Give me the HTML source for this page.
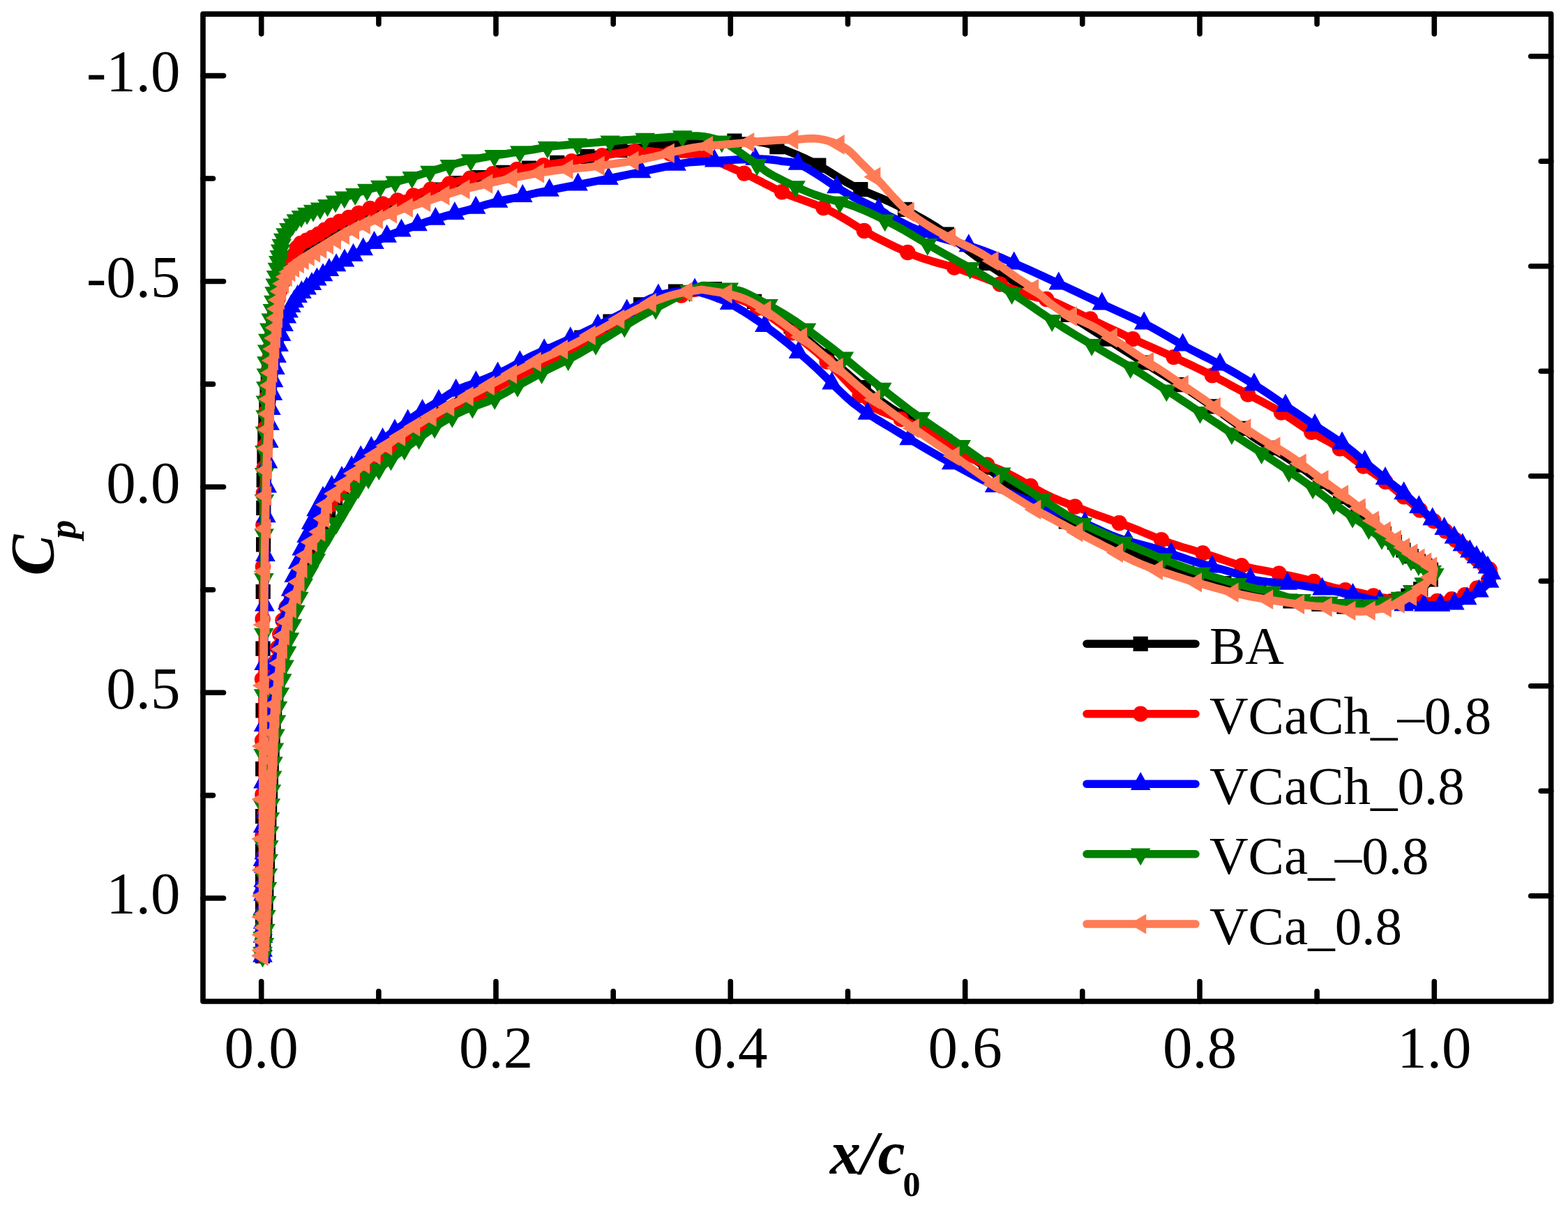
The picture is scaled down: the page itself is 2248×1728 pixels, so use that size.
<!DOCTYPE html>
<html><head><meta charset="utf-8"><style>
html,body{margin:0;padding:0;background:#fff;}
svg{display:block;}
text{font-family:"Liberation Serif","Times New Roman",serif;fill:#000;}
</style></head><body>
<svg width="2248" height="1728" viewBox="0 0 2248 1728">
<rect width="2248" height="1728" fill="#fff"/>
<rect x="291.0" y="20.1" width="1932.7" height="1415.9" fill="none" stroke="#000" stroke-width="7.6" stroke-linejoin="round"/>
<path d="M374.7 1436.0V1407.5M374.7 20.1V48.6M542.9 1436.0V1421.5M542.9 20.1V34.6M711.0 1436.0V1407.5M711.0 20.1V48.6M879.2 1436.0V1421.5M879.2 20.1V34.6M1047.3 1436.0V1407.5M1047.3 20.1V48.6M1215.5 1436.0V1421.5M1215.5 20.1V34.6M1383.7 1436.0V1407.5M1383.7 20.1V48.6M1551.8 1436.0V1421.5M1551.8 20.1V34.6M1720.0 1436.0V1407.5M1720.0 20.1V48.6M1888.1 1436.0V1421.5M1888.1 20.1V34.6M2056.3 1436.0V1407.5M2056.3 20.1V48.6M291.0 108.6H320.5M291.0 256.0H305.5M291.0 403.5H320.5M291.0 550.9H305.5M291.0 698.3H320.5M291.0 845.8H305.5M291.0 993.2H320.5M291.0 1140.6H305.5M291.0 1288.0H320.5M2223.7 80.7H2194.7M2223.7 231.2H2209.2M2223.7 381.7H2194.7M2223.7 532.2H2209.2M2223.7 682.7H2194.7M2223.7 833.2H2209.2M2223.7 983.7H2194.7M2223.7 1134.2H2209.2M2223.7 1284.7H2194.7" stroke="#000" stroke-width="7.6" stroke-linecap="round" fill="none"/>
<text x="374.7" y="1531" font-size="85" text-anchor="middle">0.0</text>
<text x="711.0" y="1531" font-size="85" text-anchor="middle">0.2</text>
<text x="1047.3" y="1531" font-size="85" text-anchor="middle">0.4</text>
<text x="1383.7" y="1531" font-size="85" text-anchor="middle">0.6</text>
<text x="1720.0" y="1531" font-size="85" text-anchor="middle">0.8</text>
<text x="2056.3" y="1531" font-size="85" text-anchor="middle">1.0</text>
<text x="258.6" y="130.9" font-size="85" text-anchor="end">-1.0</text>
<text x="258.6" y="425.8" font-size="85" text-anchor="end">-0.5</text>
<text x="258.6" y="720.6" font-size="85" text-anchor="end">0.0</text>
<text x="258.6" y="1015.5" font-size="85" text-anchor="end">0.5</text>
<text x="258.6" y="1310.3" font-size="85" text-anchor="end">1.0</text>
<text x="1190" y="1683" font-size="88" font-weight="bold" font-style="italic">x/c<tspan font-size="50" font-style="normal" dx="-3" dy="32">0</tspan></text>
<text transform="translate(76,825.4) rotate(-90)" font-size="88" font-weight="bold" font-style="italic">C<tspan font-size="54" dx="-5.8" dy="32">p</tspan></text>
<path d="M2058.0 818.0L2057.4 818.0L2056.6 818.1L2055.6 818.2L2054.5 818.2L2053.3 818.0L2052.0 817.5L2050.6 816.7L2049.1 815.7L2047.5 814.4L2045.8 813.1L2043.9 811.7L2042.0 810.3L2039.9 808.9L2037.7 807.5L2035.4 806.0L2033.0 804.5L2030.5 802.8L2028.0 801.1L2025.5 799.3L2022.9 797.4L2020.2 795.4L2017.5 793.3L2014.7 791.1L2012.0 788.9L2009.3 786.6L2006.5 784.2L2003.8 781.7L2000.9 779.1L1998.0 776.5L1995.0 773.9L1991.9 771.3L1988.7 768.8L1985.5 766.3L1982.1 763.6L1978.7 760.7L1975.0 757.6L1971.2 754.1L1967.2 750.4L1963.1 746.4L1958.9 742.3L1954.5 738.3L1950.0 734.3L1945.3 730.4L1940.4 726.4L1935.3 722.5L1930.2 718.6L1925.1 714.6L1920.0 710.8L1915.0 707.0L1910.0 703.3L1905.0 699.5L1900.0 695.9L1895.0 692.2L1890.0 688.5L1885.0 684.8L1880.0 681.1L1875.0 677.4L1870.0 673.7L1865.0 670.1L1860.0 666.6L1855.0 663.2L1850.0 659.9L1845.0 656.6L1840.0 653.4L1835.0 650.3L1830.0 647.1L1824.9 643.9L1819.6 640.7L1814.2 637.6L1809.1 634.5L1804.3 631.6L1800.0 628.8L1796.8 626.6L1794.8 625.1L1793.1 623.6L1791.0 621.8L1787.5 619.1L1782.0 615.0L1774.1 609.2L1764.4 602.1L1753.4 594.0L1741.6 585.5L1729.6 577.0L1717.9 569.0L1706.4 561.5L1694.9 554.1L1683.0 546.8L1670.8 539.2L1658.1 531.4L1644.7 523.0L1630.1 513.7L1614.1 503.6L1597.7 493.2L1581.5 482.9L1566.4 473.4L1553.2 465.0L1542.0 457.9L1532.1 451.8L1523.3 446.4L1515.3 441.4L1507.6 436.7L1500.0 432.0L1492.8 427.6L1486.5 423.9L1480.6 420.3L1474.6 416.7L1468.0 412.7L1460.5 408.0L1451.9 402.5L1442.4 396.4L1432.5 390.0L1422.2 383.2L1412.0 376.4L1402.0 369.5L1392.2 362.4L1382.4 355.0L1372.6 347.4L1362.8 339.9L1352.9 332.7L1343.0 326.0L1333.0 319.8L1323.0 314.0L1313.0 308.4L1303.0 303.1L1293.0 298.0L1283.0 293.0L1273.1 288.4L1263.2 284.1L1253.4 280.1L1243.6 276.0L1233.8 271.7L1224.0 267.0L1214.3 261.7L1204.6 255.9L1194.9 249.9L1185.3 243.9L1175.7 238.2L1166.0 233.0L1156.0 228.1L1145.6 223.4L1135.1 219.0L1125.1 214.9L1115.9 211.4L1108.0 208.5L1101.6 206.4L1096.4 205.1L1092.1 204.3L1088.2 203.8L1084.3 203.4L1080.0 203.0L1075.7 202.5L1072.0 202.2L1068.2 202.0L1063.9 201.9L1058.7 201.9L1052.0 202.0L1043.9 202.2L1034.9 202.4L1024.8 202.7L1013.8 203.2L1001.9 203.9L989.0 204.8L974.7 206.0L958.8 207.3L941.9 208.9L924.8 210.7L907.9 212.6L892.0 214.8L876.5 217.4L860.8 220.4L845.4 223.6L830.8 226.7L817.5 229.6L806.0 232.0L796.8 233.8L789.5 235.3L783.5 236.5L778.2 237.5L772.9 238.5L767.0 239.6L760.5 240.7L754.0 241.8L747.5 242.8L741.0 243.9L734.7 244.9L728.5 246.0L722.5 247.1L716.6 248.3L710.8 249.4L705.2 250.6L699.6 251.8L694.0 253.0L688.5 254.2L683.1 255.4L677.7 256.6L672.4 257.8L667.2 259.1L662.0 260.5L656.9 262.0L651.8 263.5L646.8 265.0L641.8 266.6L636.9 268.3L632.0 270.0L627.2 271.7L622.6 273.5L617.9 275.3L613.3 277.2L608.7 279.1L604.0 281.0L599.4 282.9L594.9 284.8L590.4 286.8L585.7 288.7L580.7 290.8L575.0 293.0L568.5 295.3L561.1 297.9L553.4 300.4L545.7 303.0L538.5 305.6L532.0 308.0L526.5 310.2L521.6 312.4L517.1 314.4L512.9 316.5L508.6 318.7L504.0 321.0L499.1 323.5L493.9 326.3L488.7 329.1L483.7 331.9L479.0 334.6L475.0 337.0L471.7 339.2L469.0 341.2L466.7 343.2L464.6 345.0L462.4 346.8L460.0 348.5L457.4 350.2L454.7 351.8L452.1 353.3L449.4 354.8L446.7 356.4L444.0 358.0L441.3 359.8L438.4 361.7L435.6 363.6L432.9 365.5L430.3 367.3L428.0 369.0L426.0 370.4L424.1 371.7L422.5 372.9L421.0 374.1L419.5 375.4L418.0 377.0L416.6 378.8L415.2 380.7L413.9 382.8L412.7 385.0L411.4 387.4L410.0 390.0L408.5 392.8L407.0 395.8L405.4 398.9L403.8 402.3L402.3 406.0L401.0 410.0L399.8 414.3L398.7 418.9L397.8 423.8L396.8 428.9L395.9 434.3L395.0 440.0L394.1 446.1L393.2 452.6L392.4 459.4L391.6 466.3L390.8 473.2L390.0 480.0L389.3 486.7L388.6 493.3L387.9 500.0L387.2 506.7L386.6 513.3L386.0 520.0L385.4 526.7L384.9 533.3L384.4 540.0L383.9 546.7L383.4 553.3L383.0 560.0L382.6 566.7L382.2 573.3L381.9 580.0L381.6 586.7L381.3 593.3L381.0 600.0L380.7 606.4L380.5 612.6L380.2 618.8L380.0 625.2L379.7 632.2L379.5 640.0L379.2 648.4L379.0 657.0L378.7 666.2L378.4 676.3L378.2 687.5L378.0 700.0L377.9 714.4L377.8 730.4L377.7 747.5L377.6 765.2L377.6 782.9L377.5 800.0L377.4 816.7L377.3 833.3L377.2 850.0L377.1 866.7L377.1 883.3L377.0 900.0L377.0 915.5L377.0 929.6L377.0 943.8L377.0 959.3L377.0 977.5L377.0 1000.0L376.9 1027.9L376.9 1060.3L376.8 1095.6L376.6 1131.8L376.6 1167.2L376.5 1200.0L376.5 1232.2L376.5 1265.5L376.5 1298.0L376.5 1327.7L376.5 1352.7L376.5 1371.0L376.8 1368.3L377.1 1365.1L377.5 1361.1L378.0 1355.9L378.5 1348.9L379.0 1340.0L379.6 1328.5L380.2 1314.7L380.9 1299.3L381.6 1282.9L382.3 1266.3L383.0 1250.0L383.7 1233.8L384.3 1217.0L385.0 1200.0L385.7 1183.0L386.3 1166.2L387.0 1150.0L387.7 1133.8L388.4 1117.2L389.1 1100.9L389.8 1085.6L390.4 1071.7L391.0 1060.0L391.4 1051.0L391.7 1044.4L392.0 1039.2L392.3 1034.9L392.6 1030.4L393.0 1025.0L393.6 1018.8L394.2 1012.6L394.9 1006.2L395.6 999.8L396.3 993.4L397.0 987.0L397.6 980.7L398.3 974.3L398.9 968.0L399.5 961.7L400.2 955.3L401.0 949.0L401.8 942.7L402.7 936.3L403.7 930.0L404.7 923.7L405.8 917.3L407.0 911.0L408.3 904.6L409.7 898.0L411.2 891.4L412.8 884.9L414.4 878.8L416.0 873.0L417.6 867.8L419.4 863.0L421.1 858.6L422.9 854.2L424.5 849.7L426.0 845.0L427.3 840.1L428.3 835.1L429.3 830.0L430.3 824.8L431.5 819.5L433.0 814.0L434.8 808.3L436.7 802.4L438.8 796.3L441.1 790.2L443.5 784.1L446.0 778.2L448.6 772.6L451.2 767.2L453.9 761.9L456.9 756.4L460.2 750.5L464.0 743.8L468.3 736.0L473.1 727.3L478.3 718.1L483.6 708.9L488.9 700.4L494.0 693.0L498.8 686.9L503.5 681.7L508.2 677.1L512.9 672.8L517.8 668.5L523.0 664.0L528.5 659.2L534.2 654.5L540.1 649.7L546.0 645.0L552.0 640.4L558.0 636.0L563.9 631.7L569.9 627.6L575.9 623.6L582.0 619.6L588.0 615.7L594.0 611.8L600.0 607.9L606.0 604.1L612.0 600.3L618.0 596.5L624.0 592.9L630.0 589.3L636.0 585.8L642.1 582.5L648.1 579.2L654.1 576.0L660.1 572.8L666.0 569.7L671.5 566.8L676.5 564.2L681.5 561.6L686.8 558.8L692.9 555.7L700.0 552.0L708.6 547.6L718.3 542.5L728.7 537.1L739.4 531.5L750.0 526.1L760.0 521.0L769.5 516.3L778.7 511.8L787.8 507.4L796.9 503.1L805.9 498.6L815.0 494.0L824.3 489.1L833.8 484.0L843.3 478.8L852.6 473.7L861.6 468.7L870.0 464.0L877.7 459.6L884.7 455.4L891.3 451.4L897.9 447.5L904.7 443.7L912.0 440.0L920.0 436.3L928.6 432.6L937.4 428.9L946.1 425.6L954.4 422.5L962.0 420.0L969.0 418.0L975.7 416.4L982.1 415.2L987.9 414.3L993.3 413.6L998.0 413.0L1001.5 412.4L1003.7 412.0L1005.4 411.8L1007.3 411.8L1010.2 412.2L1015.0 413.0L1021.8 414.1L1030.1 415.5L1039.5 417.2L1049.4 419.5L1059.4 422.4L1069.0 426.0L1078.3 430.6L1087.8 435.9L1097.3 441.9L1106.9 448.4L1116.5 455.2L1126.0 462.0L1135.3 468.9L1144.4 476.0L1153.4 483.3L1162.7 491.1L1172.5 499.3L1183.0 508.0L1194.4 517.7L1206.5 528.3L1219.1 539.3L1231.9 550.4L1244.6 561.0L1257.0 570.7L1269.0 579.3L1280.7 587.2L1292.4 594.6L1304.2 601.9L1316.2 609.3L1328.6 617.0L1341.9 625.3L1356.0 634.0L1370.4 642.8L1384.4 651.4L1397.5 659.5L1409.0 667.0L1418.3 673.5L1425.9 679.1L1432.5 684.3L1438.9 689.4L1446.2 694.9L1455.0 701.1L1465.8 708.4L1478.0 716.5L1490.9 724.9L1504.0 733.3L1516.6 741.0L1528.0 747.7L1538.2 753.2L1547.7 757.8L1556.6 761.8L1565.3 765.5L1574.0 769.3L1583.0 773.3L1592.0 777.6L1600.7 781.9L1609.4 786.1L1618.3 790.4L1627.8 794.7L1638.0 799.0L1648.9 803.3L1660.4 807.6L1672.4 811.9L1684.8 816.2L1697.7 820.4L1711.0 824.6L1725.4 828.8L1740.9 833.0L1756.9 837.3L1772.6 841.3L1787.2 845.0L1800.0 848.4L1810.6 851.4L1819.6 854.0L1827.4 856.4L1834.8 858.5L1842.1 860.3L1850.0 862.0L1858.4 863.3L1866.8 864.3L1875.2 865.1L1883.6 865.7L1891.9 866.3L1900.0 867.0L1908.0 867.8L1916.0 868.7L1923.8 869.5L1931.5 870.3L1938.9 870.8L1946.0 871.0L1952.8 870.9L1959.4 870.5L1965.7 870.0L1971.7 869.2L1977.5 868.3L1983.0 867.3L1988.1 866.2L1992.7 864.9L1997.1 863.4L2001.3 861.8L2005.6 860.1L2010.0 858.2L2014.8 856.1L2019.8 853.8L2024.8 851.4L2029.7 848.9L2034.1 846.4L2038.0 844.0L2041.2 841.6L2044.0 839.2L2046.4 836.9L2048.4 834.5L2050.3 832.2L2052.0 830.0L2053.5 827.7L2054.8 825.4L2055.9 823.1L2056.7 821.0L2057.4 819.3L2058.0 818.0" fill="none" stroke="#000000" stroke-width="11.5" stroke-linejoin="round" stroke-linecap="round"/><path d="M365.9 1360.4h21.2v21.2h-21.2ZM365.9 1339.1h21.2v21.2h-21.2ZM365.9 1315.1h21.2v21.2h-21.2ZM365.9 1286.9h21.2v21.2h-21.2ZM365.9 1252.9h21.2v21.2h-21.2ZM365.9 1211.5h21.2v21.2h-21.2ZM366.0 1160.1h21.2v21.2h-21.2ZM366.1 1092.0h21.2v21.2h-21.2ZM366.4 1008.2h21.2v21.2h-21.2ZM366.4 919.5h21.2v21.2h-21.2ZM366.6 837.9h21.2v21.2h-21.2ZM367.0 770.2h21.2v21.2h-21.2ZM367.2 717.8h21.2v21.2h-21.2ZM367.6 677.9h21.2v21.2h-21.2ZM368.4 644.4h21.2v21.2h-21.2ZM369.3 615.7h21.2v21.2h-21.2ZM370.3 591.5h21.2v21.2h-21.2ZM371.3 569.9h21.2v21.2h-21.2ZM372.4 549.9h21.2v21.2h-21.2ZM373.7 530.9h21.2v21.2h-21.2ZM375.1 513.0h21.2v21.2h-21.2ZM376.6 496.1h21.2v21.2h-21.2ZM378.2 480.2h21.2v21.2h-21.2ZM379.9 465.2h21.2v21.2h-21.2ZM381.5 450.9h21.2v21.2h-21.2ZM383.2 437.5h21.2v21.2h-21.2ZM385.2 424.2h21.2v21.2h-21.2ZM387.4 412.1h21.2v21.2h-21.2ZM390.1 400.5h21.2v21.2h-21.2ZM394.3 389.3h21.2v21.2h-21.2ZM399.4 379.4h21.2v21.2h-21.2ZM403.3 372.1h21.2v21.2h-21.2ZM408.5 365.2h21.2v21.2h-21.2ZM414.9 360.2h21.2v21.2h-21.2ZM422.3 354.9h21.2v21.2h-21.2ZM429.7 349.8h21.2v21.2h-21.2ZM438.3 344.5h21.2v21.2h-21.2ZM447.2 339.3h21.2v21.2h-21.2ZM456.1 332.6h21.2v21.2h-21.2ZM466.2 325.3h21.2v21.2h-21.2ZM478.1 318.5h21.2v21.2h-21.2ZM491.6 311.3h21.2v21.2h-21.2ZM506.5 303.8h21.2v21.2h-21.2ZM523.9 296.5h21.2v21.2h-21.2ZM543.8 289.5h21.2v21.2h-21.2ZM565.8 281.9h21.2v21.2h-21.2ZM589.8 271.9h21.2v21.2h-21.2ZM615.7 261.5h21.2v21.2h-21.2ZM644.2 252.0h21.2v21.2h-21.2ZM675.9 244.0h21.2v21.2h-21.2ZM710.3 236.8h21.2v21.2h-21.2ZM747.9 230.5h21.2v21.2h-21.2ZM788.2 222.8h21.2v21.2h-21.2ZM831.3 213.7h21.2v21.2h-21.2ZM878.4 204.7h21.2v21.2h-21.2ZM928.8 198.6h21.2v21.2h-21.2ZM984.1 193.8h21.2v21.2h-21.2ZM1042.4 191.4h21.2v21.2h-21.2ZM1103.3 200.1h21.2v21.2h-21.2ZM1163.2 226.6h21.2v21.2h-21.2ZM1223.2 261.1h21.2v21.2h-21.2ZM1286.9 289.7h21.2v21.2h-21.2ZM1346.8 325.4h21.2v21.2h-21.2ZM1403.1 366.9h21.2v21.2h-21.2ZM1462.2 405.1h21.2v21.2h-21.2ZM1520.6 440.7h21.2v21.2h-21.2ZM1576.0 475.6h21.2v21.2h-21.2ZM1629.4 509.4h21.2v21.2h-21.2ZM1680.3 541.1h21.2v21.2h-21.2ZM1727.3 572.3h21.2v21.2h-21.2ZM1770.6 603.8h21.2v21.2h-21.2ZM1811.6 631.7h21.2v21.2h-21.2ZM1849.8 656.3h21.2v21.2h-21.2ZM1882.3 680.0h21.2v21.2h-21.2ZM1911.1 701.5h21.2v21.2h-21.2ZM1936.3 721.1h21.2v21.2h-21.2ZM1956.2 739.4h21.2v21.2h-21.2ZM1973.6 754.7h21.2v21.2h-21.2ZM1988.7 767.0h21.2v21.2h-21.2ZM2001.4 778.3h21.2v21.2h-21.2ZM2012.7 787.1h21.2v21.2h-21.2ZM2022.8 794.2h21.2v21.2h-21.2ZM2032.4 800.4h21.2v21.2h-21.2ZM2040.9 806.6h21.2v21.2h-21.2ZM367.2 1347.4h21.2v21.2h-21.2ZM368.5 1327.8h21.2v21.2h-21.2ZM369.5 1307.7h21.2v21.2h-21.2ZM370.4 1287.7h21.2v21.2h-21.2ZM371.2 1267.8h21.2v21.2h-21.2ZM372.1 1247.5h21.2v21.2h-21.2ZM372.9 1227.8h21.2v21.2h-21.2ZM373.7 1208.0h21.2v21.2h-21.2ZM374.5 1187.9h21.2v21.2h-21.2ZM375.2 1167.8h21.2v21.2h-21.2ZM376.0 1148.0h21.2v21.2h-21.2ZM376.9 1127.7h21.2v21.2h-21.2ZM377.8 1107.6h21.2v21.2h-21.2ZM378.6 1087.8h21.2v21.2h-21.2ZM379.5 1067.8h21.2v21.2h-21.2ZM380.5 1047.8h21.2v21.2h-21.2ZM381.4 1028.1h21.2v21.2h-21.2ZM383.0 1008.2h21.2v21.2h-21.2ZM385.1 988.1h21.2v21.2h-21.2ZM387.2 968.0h21.2v21.2h-21.2ZM389.2 948.4h21.2v21.2h-21.2ZM391.8 928.4h21.2v21.2h-21.2ZM394.8 908.8h21.2v21.2h-21.2ZM398.8 888.9h21.2v21.2h-21.2ZM403.4 869.7h21.2v21.2h-21.2ZM409.6 850.4h21.2v21.2h-21.2ZM416.0 831.9h21.2v21.2h-21.2ZM420.2 812.1h21.2v21.2h-21.2ZM425.8 792.8h21.2v21.2h-21.2ZM432.7 774.0h21.2v21.2h-21.2ZM440.8 756.2h21.2v21.2h-21.2ZM450.4 738.5h21.2v21.2h-21.2ZM460.1 721.1h21.2v21.2h-21.2ZM470.0 703.5h21.2v21.2h-21.2ZM480.4 686.7h21.2v21.2h-21.2ZM492.9 671.1h21.2v21.2h-21.2ZM507.6 657.6h21.2v21.2h-21.2ZM522.8 644.5h21.2v21.2h-21.2ZM539.0 631.7h21.2v21.2h-21.2ZM557.6 618.2h21.2v21.2h-21.2ZM578.2 604.5h21.2v21.2h-21.2ZM601.0 589.9h21.2v21.2h-21.2ZM625.4 575.2h21.2v21.2h-21.2ZM652.7 560.5h21.2v21.2h-21.2ZM681.8 545.3h21.2v21.2h-21.2ZM713.6 528.8h21.2v21.2h-21.2ZM747.6 511.3h21.2v21.2h-21.2ZM784.4 493.3h21.2v21.2h-21.2ZM823.2 473.4h21.2v21.2h-21.2ZM864.4 450.6h21.2v21.2h-21.2ZM908.0 426.3h21.2v21.2h-21.2ZM957.9 407.5h21.2v21.2h-21.2ZM1013.8 404.0h21.2v21.2h-21.2ZM1070.9 421.7h21.2v21.2h-21.2ZM1123.5 457.4h21.2v21.2h-21.2ZM1175.1 499.7h21.2v21.2h-21.2ZM1227.5 544.9h21.2v21.2h-21.2ZM1284.4 585.7h21.2v21.2h-21.2ZM1344.1 622.6h21.2v21.2h-21.2ZM1403.1 659.6h21.2v21.2h-21.2ZM1459.8 700.9h21.2v21.2h-21.2ZM1517.8 737.3h21.2v21.2h-21.2ZM1577.6 765.2h21.2v21.2h-21.2ZM1634.5 791.2h21.2v21.2h-21.2ZM1690.5 810.9h21.2v21.2h-21.2ZM1744.4 826.1h21.2v21.2h-21.2ZM1794.4 839.2h21.2v21.2h-21.2ZM1839.4 851.4h21.2v21.2h-21.2ZM1880.3 855.6h21.2v21.2h-21.2ZM1916.3 859.2h21.2v21.2h-21.2ZM1946.2 860.1h21.2v21.2h-21.2ZM1970.4 857.1h21.2v21.2h-21.2ZM1990.2 851.4h21.2v21.2h-21.2ZM2008.3 843.7h21.2v21.2h-21.2ZM2026.1 834.2h21.2v21.2h-21.2ZM2040.7 820.3h21.2v21.2h-21.2Z" fill="#000000"/>
<path d="M2142.0 822.0L2140.7 820.9L2139.0 819.5L2136.9 817.8L2134.7 815.9L2132.3 813.9L2130.0 812.0L2127.7 810.1L2125.2 808.2L2122.7 806.2L2120.1 804.2L2117.5 802.1L2115.0 800.0L2112.5 797.8L2110.0 795.5L2107.6 793.1L2105.1 790.7L2102.6 788.4L2100.0 786.0L2097.4 783.7L2094.7 781.3L2092.0 778.9L2089.3 776.6L2086.6 774.3L2084.0 772.0L2081.5 769.8L2079.1 767.6L2076.8 765.5L2074.4 763.4L2072.0 761.2L2069.5 759.0L2066.9 756.8L2064.4 754.5L2061.7 752.3L2059.0 749.9L2056.1 747.5L2053.0 745.0L2049.7 742.3L2046.1 739.6L2042.5 736.7L2038.7 733.8L2034.8 730.8L2031.0 727.7L2027.1 724.5L2023.2 721.2L2019.2 717.8L2015.2 714.4L2011.1 711.0L2007.0 707.6L2002.9 704.3L1998.9 700.9L1994.8 697.6L1990.6 694.3L1986.3 690.9L1981.7 687.4L1976.9 683.9L1971.9 680.4L1966.7 676.8L1961.4 673.1L1956.1 669.4L1950.6 665.5L1945.1 661.4L1939.5 657.2L1933.9 652.8L1928.1 648.4L1922.1 644.1L1916.0 640.0L1909.6 636.1L1903.0 632.3L1896.2 628.7L1889.4 624.9L1882.4 621.1L1875.5 617.0L1868.6 612.6L1861.8 608.0L1854.9 603.2L1847.8 598.4L1840.6 593.7L1833.0 589.0L1825.1 584.5L1816.8 580.0L1808.4 575.5L1799.8 571.1L1791.3 566.6L1782.8 562.2L1774.4 557.7L1766.1 553.3L1757.8 548.8L1749.4 544.4L1741.0 540.0L1732.5 535.7L1724.0 531.5L1715.4 527.3L1706.8 523.2L1698.1 519.2L1689.3 515.1L1680.4 511.0L1671.3 506.9L1662.2 502.9L1652.9 498.8L1643.5 494.7L1634.1 490.6L1624.6 486.3L1615.0 481.9L1605.3 477.3L1595.5 472.7L1585.6 468.1L1575.8 463.4L1566.0 458.8L1555.9 454.0L1545.3 448.9L1534.8 443.8L1524.6 439.0L1515.4 434.8L1507.4 431.4L1501.2 429.2L1496.4 428.0L1492.6 427.4L1489.0 427.0L1485.0 426.3L1480.0 425.0L1474.2 423.1L1468.2 420.8L1461.8 418.4L1455.0 415.7L1447.5 412.8L1439.4 409.7L1430.4 406.3L1420.5 402.5L1410.1 398.5L1399.4 394.4L1388.6 390.5L1378.0 386.8L1367.6 383.5L1357.1 380.5L1346.6 377.6L1336.1 374.6L1325.5 371.3L1315.0 367.6L1304.5 363.4L1293.9 358.8L1283.3 354.0L1272.8 348.9L1262.3 343.7L1251.9 338.3L1241.6 332.6L1231.3 326.5L1221.1 320.2L1211.0 313.9L1200.8 308.0L1190.6 302.7L1180.0 297.9L1169.0 293.5L1157.9 289.4L1147.4 285.7L1137.7 282.2L1129.3 278.9L1122.6 276.0L1117.1 273.5L1112.6 271.4L1108.5 269.3L1104.5 267.2L1100.0 265.0L1095.2 262.6L1090.6 260.2L1085.9 257.8L1081.2 255.4L1076.4 253.1L1071.5 250.7L1066.4 248.4L1061.2 246.1L1056.0 243.9L1050.6 241.6L1045.3 239.3L1040.0 237.0L1034.8 234.5L1029.8 231.8L1024.8 229.0L1019.6 226.4L1014.0 224.2L1008.0 222.5L1001.4 221.5L994.2 221.0L986.8 220.8L979.1 220.9L971.5 220.8L964.0 220.5L956.7 219.8L949.6 218.9L942.5 218.0L935.2 217.1L927.6 216.6L919.6 216.5L910.9 217.0L901.7 217.8L892.2 219.0L882.6 220.3L873.4 221.7L864.7 223.0L856.7 224.3L849.2 225.6L842.0 226.9L834.9 228.3L827.6 229.7L820.0 231.0L812.0 232.3L803.7 233.5L795.2 234.8L786.9 236.0L778.7 237.2L770.8 238.4L763.3 239.5L755.9 240.7L748.7 241.8L741.8 242.8L735.0 243.9L728.5 245.0L722.3 246.1L716.3 247.2L710.6 248.3L705.0 249.4L699.5 250.5L694.0 251.6L688.6 252.7L683.3 253.7L678.1 254.8L672.9 255.8L667.8 257.0L662.7 258.2L657.6 259.5L652.5 261.0L647.4 262.5L642.4 264.0L637.4 265.5L632.5 267.0L627.6 268.5L622.6 269.9L617.7 271.4L612.9 272.9L608.3 274.3L603.9 275.8L600.0 277.3L596.5 278.8L593.2 280.2L589.8 281.7L586.2 283.1L582.0 284.5L577.2 285.8L571.9 287.0L566.3 288.2L560.7 289.4L555.2 290.6L550.0 292.0L545.2 293.5L540.4 295.1L535.9 296.8L531.4 298.6L527.1 300.3L522.9 302.0L518.9 303.7L515.0 305.3L511.3 306.9L507.6 308.6L503.9 310.3L500.0 312.0L495.9 313.8L491.6 315.7L487.2 317.6L483.0 319.5L478.9 321.4L475.2 323.3L471.9 325.2L469.0 327.2L466.3 329.2L463.6 331.1L461.0 333.0L458.2 334.8L455.2 336.5L452.1 338.2L449.0 339.8L446.0 341.4L443.1 342.9L440.4 344.3L437.9 345.6L435.5 346.8L433.2 347.9L431.2 349.0L429.4 350.2L427.9 351.4L426.8 352.7L426.2 354.0L425.8 355.3L425.5 356.8L425.2 358.3L424.6 360.0L423.8 361.9L423.0 364.0L422.0 366.3L421.1 368.6L420.0 370.8L419.0 373.0L417.9 375.0L416.7 377.0L415.5 378.9L414.3 380.8L413.1 382.8L412.0 385.0L411.0 387.2L410.0 389.2L409.1 391.4L408.1 393.8L407.1 396.6L406.0 400.0L404.8 404.0L403.4 408.5L402.1 413.4L400.7 418.7L399.3 424.2L398.0 430.0L396.8 436.1L395.5 442.6L394.3 449.4L393.1 456.3L392.0 463.2L391.0 470.0L390.0 476.6L389.1 483.0L388.2 489.4L387.4 495.9L386.7 502.8L386.0 510.0L385.4 517.6L384.9 525.6L384.4 533.8L383.9 542.2L383.5 551.0L383.0 560.0L382.5 569.2L382.0 578.5L381.4 588.1L380.9 598.1L380.4 608.7L380.0 620.0L379.6 631.9L379.2 644.4L378.9 657.5L378.6 671.1L378.3 685.3L378.0 700.0L377.8 715.5L377.6 731.9L377.4 748.8L377.3 765.9L377.1 783.1L377.0 800.0L376.9 816.7L376.8 833.3L376.7 850.0L376.6 866.7L376.6 883.3L376.5 900.0L376.4 915.5L376.3 929.6L376.2 943.8L376.1 959.3L376.0 977.5L376.0 1000.0L376.0 1027.9L376.1 1060.3L376.2 1095.6L376.3 1131.8L376.4 1167.2L376.5 1200.0L376.5 1232.2L376.5 1265.5L376.5 1298.0L376.5 1327.7L376.5 1352.7L376.5 1371.0L376.5 1368.3L376.6 1365.1L376.7 1361.1L376.8 1355.9L376.9 1348.9L377.0 1340.0L377.1 1328.5L377.3 1314.7L377.4 1299.3L377.6 1282.9L377.8 1266.3L378.0 1250.0L378.3 1233.8L378.5 1217.0L378.8 1200.0L379.1 1183.0L379.5 1166.2L380.0 1150.0L380.6 1134.1L381.2 1118.1L381.9 1102.5L382.6 1087.4L383.3 1073.1L384.0 1060.0L384.6 1048.1L385.2 1037.4L385.8 1027.5L386.4 1018.1L387.2 1009.1L388.0 1000.0L389.0 991.1L390.1 982.6L391.2 974.4L392.5 966.3L393.7 958.2L395.0 950.0L396.2 941.6L397.5 933.0L398.8 924.4L400.1 915.9L401.5 907.8L403.0 900.0L404.7 892.6L406.4 885.6L408.3 878.8L410.2 872.2L412.1 866.0L414.0 860.0L415.8 854.4L417.7 849.3L419.5 844.4L421.3 839.6L423.2 834.9L425.0 830.0L426.8 824.9L428.7 819.8L430.5 814.7L432.3 809.6L434.2 804.7L436.0 800.0L437.8 795.6L439.7 791.3L441.5 787.2L443.3 783.2L445.2 779.3L447.0 775.3L448.8 771.3L450.6 767.5L452.4 763.6L454.3 759.8L456.1 755.9L458.0 752.1L459.8 748.3L461.4 744.7L463.1 741.1L464.9 737.3L467.2 733.4L470.0 729.0L473.5 724.2L477.5 719.0L481.9 713.5L486.6 708.0L491.3 702.5L496.0 697.2L500.6 692.1L505.2 687.0L509.9 681.9L514.8 676.9L519.8 672.0L525.0 667.2L530.5 662.5L536.2 657.8L542.1 653.3L548.0 648.8L554.0 644.4L560.0 640.2L565.9 636.1L571.9 632.1L577.9 628.3L584.0 624.5L590.0 620.8L596.0 617.2L602.0 613.6L608.0 610.2L614.0 606.8L620.0 603.5L626.0 600.2L632.0 597.0L638.0 593.8L644.0 590.8L649.9 587.8L655.9 584.8L661.9 581.7L668.0 578.7L673.9 575.7L679.6 572.9L685.3 570.1L691.3 567.1L697.8 563.8L705.0 560.1L713.1 555.8L722.0 551.1L731.4 546.0L741.0 540.9L750.6 535.8L760.0 531.0L769.2 526.5L778.3 522.3L787.5 518.1L796.7 513.8L805.8 509.5L815.0 505.0L824.3 500.2L833.7 495.1L843.1 490.0L852.4 484.9L861.4 479.8L870.0 475.0L878.1 470.4L885.7 465.9L893.1 461.4L900.3 457.1L907.6 453.0L915.0 449.0L922.7 445.1L930.6 441.1L938.5 437.4L946.3 433.9L953.9 430.7L961.0 428.0L967.9 425.8L974.7 424.1L981.2 422.7L987.3 421.6L992.8 420.7L997.7 420.0L1001.2 419.4L1003.4 418.9L1005.0 418.7L1006.9 418.7L1009.8 419.2L1014.6 420.0L1021.5 421.1L1030.0 422.5L1039.6 424.2L1049.7 426.4L1059.8 429.3L1069.5 433.0L1078.9 437.7L1088.3 443.2L1097.8 449.4L1107.3 456.1L1116.8 463.0L1126.3 470.0L1135.8 477.0L1145.3 484.3L1154.8 491.8L1164.2 499.6L1173.7 507.7L1183.0 516.0L1192.7 525.2L1202.8 535.5L1212.8 545.9L1222.3 556.0L1230.8 564.9L1237.9 572.0L1242.7 576.7L1245.3 579.5L1247.0 581.2L1248.7 582.5L1251.7 584.1L1257.0 586.8L1264.9 590.4L1274.7 594.4L1285.6 598.7L1297.1 603.3L1308.7 608.3L1319.6 613.6L1330.0 619.6L1340.5 626.3L1351.0 633.4L1361.4 640.5L1371.8 647.1L1382.0 652.9L1392.0 657.7L1401.9 661.7L1411.7 665.3L1421.5 668.8L1431.3 672.6L1441.2 676.9L1451.2 682.0L1461.3 687.6L1471.4 693.4L1481.5 699.3L1491.6 704.9L1501.6 710.0L1511.6 714.6L1521.5 718.8L1531.4 722.7L1541.2 726.5L1551.1 730.2L1561.0 734.0L1570.9 737.8L1580.9 741.4L1590.9 745.0L1600.9 748.6L1610.7 752.2L1620.5 755.9L1630.1 759.7L1639.7 763.7L1649.2 767.6L1658.6 771.5L1667.9 775.3L1677.2 778.7L1686.4 781.8L1695.5 784.7L1704.6 787.3L1713.6 789.9L1722.4 792.5L1731.2 795.2L1739.8 798.0L1748.4 801.0L1756.9 803.9L1765.2 806.7L1773.4 809.4L1781.5 811.7L1789.4 813.7L1797.1 815.3L1804.7 816.8L1812.3 818.2L1819.8 819.6L1827.4 821.1L1835.1 822.7L1843.0 824.3L1850.9 825.9L1858.6 827.6L1866.1 829.3L1873.2 831.0L1879.8 832.8L1886.1 834.7L1892.1 836.6L1897.9 838.6L1903.8 840.4L1909.8 842.0L1915.9 843.5L1922.1 844.8L1928.2 846.0L1934.3 847.2L1940.4 848.3L1946.4 849.5L1952.3 850.7L1958.1 852.0L1963.9 853.3L1969.6 854.5L1975.3 855.6L1981.0 856.6L1986.6 857.4L1992.2 858.1L1997.7 858.7L2003.3 859.2L2009.1 859.7L2015.0 860.1L2021.5 860.5L2028.4 861.0L2035.5 861.3L2042.4 861.6L2048.7 861.9L2054.0 862.0L2058.2 862.0L2061.6 862.0L2064.3 861.9L2066.8 861.7L2069.2 861.4L2072.0 861.0L2075.0 860.5L2078.1 860.0L2081.2 859.3L2084.2 858.6L2087.2 857.8L2090.0 857.0L2092.7 856.2L2095.2 855.3L2097.7 854.3L2100.1 853.3L2102.5 852.2L2105.0 851.0L2107.5 849.7L2110.0 848.3L2112.6 846.8L2115.1 845.2L2117.6 843.6L2120.0 842.0L2122.5 840.4L2125.0 838.7L2127.4 837.1L2129.8 835.4L2132.0 833.7L2134.0 832.0L2135.8 830.2L2137.4 828.3L2138.9 826.4L2140.1 824.6L2141.2 823.1L2142.0 822.0" fill="none" stroke="#ff0000" stroke-width="11.5" stroke-linejoin="round" stroke-linecap="round"/><path d="M365.3 1371.0a11.2 11.2 0 1 0 22.4 0a11.2 11.2 0 1 0 -22.4 0ZM365.3 1360.9a11.2 11.2 0 1 0 22.4 0a11.2 11.2 0 1 0 -22.4 0ZM365.3 1337.9a11.2 11.2 0 1 0 22.4 0a11.2 11.2 0 1 0 -22.4 0ZM365.3 1312.1a11.2 11.2 0 1 0 22.4 0a11.2 11.2 0 1 0 -22.4 0ZM365.3 1281.0a11.2 11.2 0 1 0 22.4 0a11.2 11.2 0 1 0 -22.4 0ZM365.3 1243.8a11.2 11.2 0 1 0 22.4 0a11.2 11.2 0 1 0 -22.4 0ZM365.3 1198.0a11.2 11.2 0 1 0 22.4 0a11.2 11.2 0 1 0 -22.4 0ZM365.2 1139.4a11.2 11.2 0 1 0 22.4 0a11.2 11.2 0 1 0 -22.4 0ZM364.9 1061.8a11.2 11.2 0 1 0 22.4 0a11.2 11.2 0 1 0 -22.4 0ZM364.8 974.0a11.2 11.2 0 1 0 22.4 0a11.2 11.2 0 1 0 -22.4 0ZM365.4 887.4a11.2 11.2 0 1 0 22.4 0a11.2 11.2 0 1 0 -22.4 0ZM365.7 812.6a11.2 11.2 0 1 0 22.4 0a11.2 11.2 0 1 0 -22.4 0ZM366.2 752.8a11.2 11.2 0 1 0 22.4 0a11.2 11.2 0 1 0 -22.4 0ZM366.7 707.0a11.2 11.2 0 1 0 22.4 0a11.2 11.2 0 1 0 -22.4 0ZM367.4 671.1a11.2 11.2 0 1 0 22.4 0a11.2 11.2 0 1 0 -22.4 0ZM368.2 639.9a11.2 11.2 0 1 0 22.4 0a11.2 11.2 0 1 0 -22.4 0ZM369.0 613.9a11.2 11.2 0 1 0 22.4 0a11.2 11.2 0 1 0 -22.4 0ZM370.1 591.1a11.2 11.2 0 1 0 22.4 0a11.2 11.2 0 1 0 -22.4 0ZM371.2 570.2a11.2 11.2 0 1 0 22.4 0a11.2 11.2 0 1 0 -22.4 0ZM372.3 551.0a11.2 11.2 0 1 0 22.4 0a11.2 11.2 0 1 0 -22.4 0ZM373.3 532.2a11.2 11.2 0 1 0 22.4 0a11.2 11.2 0 1 0 -22.4 0ZM374.4 515.1a11.2 11.2 0 1 0 22.4 0a11.2 11.2 0 1 0 -22.4 0ZM376.0 498.6a11.2 11.2 0 1 0 22.4 0a11.2 11.2 0 1 0 -22.4 0ZM377.8 483.5a11.2 11.2 0 1 0 22.4 0a11.2 11.2 0 1 0 -22.4 0ZM380.0 468.4a11.2 11.2 0 1 0 22.4 0a11.2 11.2 0 1 0 -22.4 0ZM382.2 454.8a11.2 11.2 0 1 0 22.4 0a11.2 11.2 0 1 0 -22.4 0ZM384.5 441.6a11.2 11.2 0 1 0 22.4 0a11.2 11.2 0 1 0 -22.4 0ZM387.0 429.0a11.2 11.2 0 1 0 22.4 0a11.2 11.2 0 1 0 -22.4 0ZM389.9 417.1a11.2 11.2 0 1 0 22.4 0a11.2 11.2 0 1 0 -22.4 0ZM393.1 405.5a11.2 11.2 0 1 0 22.4 0a11.2 11.2 0 1 0 -22.4 0ZM396.7 394.3a11.2 11.2 0 1 0 22.4 0a11.2 11.2 0 1 0 -22.4 0ZM400.5 385.5a11.2 11.2 0 1 0 22.4 0a11.2 11.2 0 1 0 -22.4 0ZM404.6 378.4a11.2 11.2 0 1 0 22.4 0a11.2 11.2 0 1 0 -22.4 0ZM408.8 370.8a11.2 11.2 0 1 0 22.4 0a11.2 11.2 0 1 0 -22.4 0ZM412.0 363.5a11.2 11.2 0 1 0 22.4 0a11.2 11.2 0 1 0 -22.4 0ZM414.6 355.3a11.2 11.2 0 1 0 22.4 0a11.2 11.2 0 1 0 -22.4 0ZM420.0 349.0a11.2 11.2 0 1 0 22.4 0a11.2 11.2 0 1 0 -22.4 0ZM428.2 344.8a11.2 11.2 0 1 0 22.4 0a11.2 11.2 0 1 0 -22.4 0ZM436.3 340.6a11.2 11.2 0 1 0 22.4 0a11.2 11.2 0 1 0 -22.4 0ZM445.5 335.7a11.2 11.2 0 1 0 22.4 0a11.2 11.2 0 1 0 -22.4 0ZM454.2 329.8a11.2 11.2 0 1 0 22.4 0a11.2 11.2 0 1 0 -22.4 0ZM464.0 323.3a11.2 11.2 0 1 0 22.4 0a11.2 11.2 0 1 0 -22.4 0ZM475.6 317.8a11.2 11.2 0 1 0 22.4 0a11.2 11.2 0 1 0 -22.4 0ZM488.8 312.0a11.2 11.2 0 1 0 22.4 0a11.2 11.2 0 1 0 -22.4 0ZM502.9 305.7a11.2 11.2 0 1 0 22.4 0a11.2 11.2 0 1 0 -22.4 0ZM519.3 299.0a11.2 11.2 0 1 0 22.4 0a11.2 11.2 0 1 0 -22.4 0ZM537.3 292.5a11.2 11.2 0 1 0 22.4 0a11.2 11.2 0 1 0 -22.4 0ZM558.7 287.4a11.2 11.2 0 1 0 22.4 0a11.2 11.2 0 1 0 -22.4 0ZM581.5 280.4a11.2 11.2 0 1 0 22.4 0a11.2 11.2 0 1 0 -22.4 0ZM606.5 271.4a11.2 11.2 0 1 0 22.4 0a11.2 11.2 0 1 0 -22.4 0ZM633.2 263.4a11.2 11.2 0 1 0 22.4 0a11.2 11.2 0 1 0 -22.4 0ZM662.8 255.6a11.2 11.2 0 1 0 22.4 0a11.2 11.2 0 1 0 -22.4 0ZM695.3 249.1a11.2 11.2 0 1 0 22.4 0a11.2 11.2 0 1 0 -22.4 0ZM730.0 242.9a11.2 11.2 0 1 0 22.4 0a11.2 11.2 0 1 0 -22.4 0ZM768.0 237.1a11.2 11.2 0 1 0 22.4 0a11.2 11.2 0 1 0 -22.4 0ZM808.3 231.1a11.2 11.2 0 1 0 22.4 0a11.2 11.2 0 1 0 -22.4 0ZM852.0 223.2a11.2 11.2 0 1 0 22.4 0a11.2 11.2 0 1 0 -22.4 0ZM898.7 217.1a11.2 11.2 0 1 0 22.4 0a11.2 11.2 0 1 0 -22.4 0ZM949.2 220.2a11.2 11.2 0 1 0 22.4 0a11.2 11.2 0 1 0 -22.4 0ZM1003.3 224.4a11.2 11.2 0 1 0 22.4 0a11.2 11.2 0 1 0 -22.4 0ZM1055.7 248.6a11.2 11.2 0 1 0 22.4 0a11.2 11.2 0 1 0 -22.4 0ZM1109.9 275.3a11.2 11.2 0 1 0 22.4 0a11.2 11.2 0 1 0 -22.4 0ZM1169.3 298.1a11.2 11.2 0 1 0 22.4 0a11.2 11.2 0 1 0 -22.4 0ZM1227.7 331.0a11.2 11.2 0 1 0 22.4 0a11.2 11.2 0 1 0 -22.4 0ZM1290.1 362.0a11.2 11.2 0 1 0 22.4 0a11.2 11.2 0 1 0 -22.4 0ZM1356.9 383.7a11.2 11.2 0 1 0 22.4 0a11.2 11.2 0 1 0 -22.4 0ZM1422.5 407.5a11.2 11.2 0 1 0 22.4 0a11.2 11.2 0 1 0 -22.4 0ZM1488.9 429.0a11.2 11.2 0 1 0 22.4 0a11.2 11.2 0 1 0 -22.4 0ZM1552.0 457.5a11.2 11.2 0 1 0 22.4 0a11.2 11.2 0 1 0 -22.4 0ZM1612.9 486.1a11.2 11.2 0 1 0 22.4 0a11.2 11.2 0 1 0 -22.4 0ZM1671.5 512.1a11.2 11.2 0 1 0 22.4 0a11.2 11.2 0 1 0 -22.4 0ZM1726.7 538.4a11.2 11.2 0 1 0 22.4 0a11.2 11.2 0 1 0 -22.4 0ZM1777.8 565.5a11.2 11.2 0 1 0 22.4 0a11.2 11.2 0 1 0 -22.4 0ZM1825.8 591.5a11.2 11.2 0 1 0 22.4 0a11.2 11.2 0 1 0 -22.4 0ZM1869.1 619.8a11.2 11.2 0 1 0 22.4 0a11.2 11.2 0 1 0 -22.4 0ZM1909.6 643.3a11.2 11.2 0 1 0 22.4 0a11.2 11.2 0 1 0 -22.4 0ZM1943.6 668.5a11.2 11.2 0 1 0 22.4 0a11.2 11.2 0 1 0 -22.4 0ZM1975.1 690.9a11.2 11.2 0 1 0 22.4 0a11.2 11.2 0 1 0 -22.4 0ZM2001.5 712.4a11.2 11.2 0 1 0 22.4 0a11.2 11.2 0 1 0 -22.4 0ZM2024.5 731.5a11.2 11.2 0 1 0 22.4 0a11.2 11.2 0 1 0 -22.4 0ZM2044.4 747.2a11.2 11.2 0 1 0 22.4 0a11.2 11.2 0 1 0 -22.4 0ZM2061.2 761.6a11.2 11.2 0 1 0 22.4 0a11.2 11.2 0 1 0 -22.4 0ZM2075.4 774.3a11.2 11.2 0 1 0 22.4 0a11.2 11.2 0 1 0 -22.4 0ZM2087.7 785.0a11.2 11.2 0 1 0 22.4 0a11.2 11.2 0 1 0 -22.4 0ZM2098.0 794.7a11.2 11.2 0 1 0 22.4 0a11.2 11.2 0 1 0 -22.4 0ZM2107.2 802.8a11.2 11.2 0 1 0 22.4 0a11.2 11.2 0 1 0 -22.4 0ZM2116.5 810.1a11.2 11.2 0 1 0 22.4 0a11.2 11.2 0 1 0 -22.4 0ZM2124.4 816.6a11.2 11.2 0 1 0 22.4 0a11.2 11.2 0 1 0 -22.4 0ZM365.3 1368.3a11.2 11.2 0 1 0 22.4 0a11.2 11.2 0 1 0 -22.4 0ZM365.7 1347.9a11.2 11.2 0 1 0 22.4 0a11.2 11.2 0 1 0 -22.4 0ZM365.9 1328.0a11.2 11.2 0 1 0 22.4 0a11.2 11.2 0 1 0 -22.4 0ZM366.1 1308.1a11.2 11.2 0 1 0 22.4 0a11.2 11.2 0 1 0 -22.4 0ZM366.3 1288.0a11.2 11.2 0 1 0 22.4 0a11.2 11.2 0 1 0 -22.4 0ZM366.5 1268.3a11.2 11.2 0 1 0 22.4 0a11.2 11.2 0 1 0 -22.4 0ZM366.8 1248.0a11.2 11.2 0 1 0 22.4 0a11.2 11.2 0 1 0 -22.4 0ZM367.1 1228.2a11.2 11.2 0 1 0 22.4 0a11.2 11.2 0 1 0 -22.4 0ZM367.5 1208.0a11.2 11.2 0 1 0 22.4 0a11.2 11.2 0 1 0 -22.4 0ZM367.8 1188.0a11.2 11.2 0 1 0 22.4 0a11.2 11.2 0 1 0 -22.4 0ZM368.3 1168.2a11.2 11.2 0 1 0 22.4 0a11.2 11.2 0 1 0 -22.4 0ZM368.9 1147.9a11.2 11.2 0 1 0 22.4 0a11.2 11.2 0 1 0 -22.4 0ZM369.6 1128.4a11.2 11.2 0 1 0 22.4 0a11.2 11.2 0 1 0 -22.4 0ZM370.4 1108.1a11.2 11.2 0 1 0 22.4 0a11.2 11.2 0 1 0 -22.4 0ZM371.3 1088.4a11.2 11.2 0 1 0 22.4 0a11.2 11.2 0 1 0 -22.4 0ZM372.4 1068.1a11.2 11.2 0 1 0 22.4 0a11.2 11.2 0 1 0 -22.4 0ZM373.4 1048.1a11.2 11.2 0 1 0 22.4 0a11.2 11.2 0 1 0 -22.4 0ZM374.6 1028.5a11.2 11.2 0 1 0 22.4 0a11.2 11.2 0 1 0 -22.4 0ZM376.0 1008.6a11.2 11.2 0 1 0 22.4 0a11.2 11.2 0 1 0 -22.4 0ZM378.1 988.6a11.2 11.2 0 1 0 22.4 0a11.2 11.2 0 1 0 -22.4 0ZM380.9 968.8a11.2 11.2 0 1 0 22.4 0a11.2 11.2 0 1 0 -22.4 0ZM383.9 949.0a11.2 11.2 0 1 0 22.4 0a11.2 11.2 0 1 0 -22.4 0ZM386.9 928.9a11.2 11.2 0 1 0 22.4 0a11.2 11.2 0 1 0 -22.4 0ZM390.0 909.3a11.2 11.2 0 1 0 22.4 0a11.2 11.2 0 1 0 -22.4 0ZM394.2 889.6a11.2 11.2 0 1 0 22.4 0a11.2 11.2 0 1 0 -22.4 0ZM399.5 870.8a11.2 11.2 0 1 0 22.4 0a11.2 11.2 0 1 0 -22.4 0ZM405.7 851.3a11.2 11.2 0 1 0 22.4 0a11.2 11.2 0 1 0 -22.4 0ZM412.7 832.9a11.2 11.2 0 1 0 22.4 0a11.2 11.2 0 1 0 -22.4 0ZM419.5 814.2a11.2 11.2 0 1 0 22.4 0a11.2 11.2 0 1 0 -22.4 0ZM426.6 795.6a11.2 11.2 0 1 0 22.4 0a11.2 11.2 0 1 0 -22.4 0ZM434.9 777.3a11.2 11.2 0 1 0 22.4 0a11.2 11.2 0 1 0 -22.4 0ZM443.5 758.8a11.2 11.2 0 1 0 22.4 0a11.2 11.2 0 1 0 -22.4 0ZM451.9 741.1a11.2 11.2 0 1 0 22.4 0a11.2 11.2 0 1 0 -22.4 0ZM462.6 723.8a11.2 11.2 0 1 0 22.4 0a11.2 11.2 0 1 0 -22.4 0ZM475.1 708.4a11.2 11.2 0 1 0 22.4 0a11.2 11.2 0 1 0 -22.4 0ZM488.3 693.2a11.2 11.2 0 1 0 22.4 0a11.2 11.2 0 1 0 -22.4 0ZM501.7 678.8a11.2 11.2 0 1 0 22.4 0a11.2 11.2 0 1 0 -22.4 0ZM516.5 664.8a11.2 11.2 0 1 0 22.4 0a11.2 11.2 0 1 0 -22.4 0ZM532.1 652.3a11.2 11.2 0 1 0 22.4 0a11.2 11.2 0 1 0 -22.4 0ZM548.8 640.2a11.2 11.2 0 1 0 22.4 0a11.2 11.2 0 1 0 -22.4 0ZM568.0 627.5a11.2 11.2 0 1 0 22.4 0a11.2 11.2 0 1 0 -22.4 0ZM589.4 614.5a11.2 11.2 0 1 0 22.4 0a11.2 11.2 0 1 0 -22.4 0ZM612.5 601.5a11.2 11.2 0 1 0 22.4 0a11.2 11.2 0 1 0 -22.4 0ZM638.3 588.0a11.2 11.2 0 1 0 22.4 0a11.2 11.2 0 1 0 -22.4 0ZM665.5 574.3a11.2 11.2 0 1 0 22.4 0a11.2 11.2 0 1 0 -22.4 0ZM695.2 559.4a11.2 11.2 0 1 0 22.4 0a11.2 11.2 0 1 0 -22.4 0ZM726.1 542.8a11.2 11.2 0 1 0 22.4 0a11.2 11.2 0 1 0 -22.4 0ZM759.8 525.7a11.2 11.2 0 1 0 22.4 0a11.2 11.2 0 1 0 -22.4 0ZM796.5 508.6a11.2 11.2 0 1 0 22.4 0a11.2 11.2 0 1 0 -22.4 0ZM834.6 488.5a11.2 11.2 0 1 0 22.4 0a11.2 11.2 0 1 0 -22.4 0ZM874.5 465.9a11.2 11.2 0 1 0 22.4 0a11.2 11.2 0 1 0 -22.4 0ZM917.1 442.3a11.2 11.2 0 1 0 22.4 0a11.2 11.2 0 1 0 -22.4 0ZM965.5 423.6a11.2 11.2 0 1 0 22.4 0a11.2 11.2 0 1 0 -22.4 0ZM1019.8 422.7a11.2 11.2 0 1 0 22.4 0a11.2 11.2 0 1 0 -22.4 0ZM1074.8 441.9a11.2 11.2 0 1 0 22.4 0a11.2 11.2 0 1 0 -22.4 0ZM1125.0 477.3a11.2 11.2 0 1 0 22.4 0a11.2 11.2 0 1 0 -22.4 0ZM1174.4 518.5a11.2 11.2 0 1 0 22.4 0a11.2 11.2 0 1 0 -22.4 0ZM1221.5 566.8a11.2 11.2 0 1 0 22.4 0a11.2 11.2 0 1 0 -22.4 0ZM1280.6 601.2a11.2 11.2 0 1 0 22.4 0a11.2 11.2 0 1 0 -22.4 0ZM1341.5 634.6a11.2 11.2 0 1 0 22.4 0a11.2 11.2 0 1 0 -22.4 0ZM1403.9 666.5a11.2 11.2 0 1 0 22.4 0a11.2 11.2 0 1 0 -22.4 0ZM1466.3 697.0a11.2 11.2 0 1 0 22.4 0a11.2 11.2 0 1 0 -22.4 0ZM1530.0 726.5a11.2 11.2 0 1 0 22.4 0a11.2 11.2 0 1 0 -22.4 0ZM1593.4 750.0a11.2 11.2 0 1 0 22.4 0a11.2 11.2 0 1 0 -22.4 0ZM1653.9 774.1a11.2 11.2 0 1 0 22.4 0a11.2 11.2 0 1 0 -22.4 0ZM1713.2 793.1a11.2 11.2 0 1 0 22.4 0a11.2 11.2 0 1 0 -22.4 0ZM1768.8 811.3a11.2 11.2 0 1 0 22.4 0a11.2 11.2 0 1 0 -22.4 0ZM1822.4 822.4a11.2 11.2 0 1 0 22.4 0a11.2 11.2 0 1 0 -22.4 0ZM1872.5 834.0a11.2 11.2 0 1 0 22.4 0a11.2 11.2 0 1 0 -22.4 0ZM1917.5 846.1a11.2 11.2 0 1 0 22.4 0a11.2 11.2 0 1 0 -22.4 0ZM1957.9 854.4a11.2 11.2 0 1 0 22.4 0a11.2 11.2 0 1 0 -22.4 0ZM1993.7 859.3a11.2 11.2 0 1 0 22.4 0a11.2 11.2 0 1 0 -22.4 0ZM2023.8 861.3a11.2 11.2 0 1 0 22.4 0a11.2 11.2 0 1 0 -22.4 0ZM2049.2 862.0a11.2 11.2 0 1 0 22.4 0a11.2 11.2 0 1 0 -22.4 0ZM2070.0 859.3a11.2 11.2 0 1 0 22.4 0a11.2 11.2 0 1 0 -22.4 0ZM2088.9 853.3a11.2 11.2 0 1 0 22.4 0a11.2 11.2 0 1 0 -22.4 0ZM2106.4 843.6a11.2 11.2 0 1 0 22.4 0a11.2 11.2 0 1 0 -22.4 0ZM2122.8 832.0a11.2 11.2 0 1 0 22.4 0a11.2 11.2 0 1 0 -22.4 0Z" fill="#ff0000"/>
<path d="M2139.0 825.0L2138.7 824.3L2138.4 823.3L2138.0 822.1L2137.5 820.8L2136.9 819.4L2136.0 818.0L2135.0 816.6L2133.9 815.0L2132.6 813.4L2131.1 811.7L2129.4 809.9L2127.5 808.0L2125.2 805.9L2122.7 803.7L2119.9 801.4L2116.9 799.0L2113.9 796.5L2111.0 794.0L2108.0 791.4L2104.9 788.7L2101.8 786.0L2098.7 783.2L2095.7 780.5L2092.8 778.0L2090.2 775.6L2087.7 773.3L2085.3 771.1L2082.9 768.9L2080.5 766.7L2078.0 764.5L2075.4 762.3L2072.8 760.1L2070.2 758.0L2067.5 755.8L2064.7 753.5L2061.7 751.0L2058.6 748.4L2055.4 745.8L2052.1 743.0L2048.6 740.2L2045.1 737.2L2041.5 734.0L2037.8 730.6L2034.0 726.9L2030.1 723.2L2026.0 719.3L2021.9 715.5L2017.7 711.7L2013.4 708.0L2008.9 704.4L2004.3 700.8L1999.7 697.2L1995.0 693.6L1990.3 689.8L1985.6 686.0L1980.8 682.1L1976.0 678.2L1971.1 674.3L1966.1 670.2L1961.0 666.0L1955.8 661.6L1950.5 657.1L1945.1 652.4L1939.5 647.7L1933.8 643.1L1928.0 638.6L1922.0 634.3L1915.8 630.0L1909.4 625.8L1902.9 621.6L1896.4 617.4L1889.7 613.0L1883.0 608.5L1876.1 604.0L1869.2 599.3L1862.2 594.6L1855.1 589.9L1847.8 585.0L1840.4 580.0L1833.0 574.8L1825.4 569.6L1817.7 564.3L1809.9 559.1L1802.0 554.0L1794.0 549.0L1785.9 544.0L1777.7 539.1L1769.5 534.3L1761.1 529.5L1752.6 524.7L1744.0 520.0L1735.3 515.5L1726.4 511.0L1717.5 506.4L1708.6 501.8L1699.6 497.0L1690.6 492.0L1681.6 486.8L1672.5 481.5L1663.4 476.2L1654.1 471.0L1644.7 466.0L1635.2 461.2L1625.5 456.7L1615.7 452.2L1605.8 447.7L1595.9 443.3L1586.0 438.7L1576.1 434.0L1566.1 429.3L1556.0 424.6L1546.0 419.8L1535.8 415.0L1525.7 410.3L1515.5 405.5L1505.2 400.8L1495.0 396.0L1484.6 391.2L1474.3 386.5L1464.0 382.0L1453.8 377.6L1443.8 373.2L1433.7 368.9L1423.5 364.7L1413.0 360.6L1402.0 356.6L1390.2 352.8L1377.7 349.2L1364.8 345.8L1352.0 342.3L1339.9 338.8L1328.7 335.0L1318.2 330.8L1308.0 326.3L1298.3 321.6L1289.5 317.1L1281.9 313.2L1275.7 310.0L1271.9 308.0L1270.4 307.0L1270.1 306.6L1269.8 306.1L1268.4 305.1L1264.7 303.0L1258.6 299.9L1251.0 296.2L1242.3 292.0L1232.8 287.3L1223.1 282.3L1213.4 277.0L1203.3 270.9L1192.3 263.8L1180.9 256.3L1169.9 249.1L1159.7 242.8L1151.0 238.0L1144.0 234.9L1138.3 233.1L1133.4 232.2L1129.0 231.9L1124.7 231.6L1120.0 231.0L1115.2 230.2L1110.7 229.5L1106.3 229.0L1101.7 228.5L1096.6 228.2L1091.0 228.0L1084.7 228.0L1077.8 228.1L1070.5 228.4L1063.0 228.8L1055.3 229.1L1047.7 229.5L1039.7 229.9L1031.3 230.2L1022.7 230.7L1014.4 231.1L1006.7 231.5L1000.0 232.0L995.2 232.3L992.3 232.4L990.0 232.5L987.1 232.8L982.3 233.6L974.5 235.0L963.1 237.2L949.1 240.1L933.2 243.5L916.4 247.1L899.4 250.6L883.0 254.0L866.4 257.3L848.8 260.8L831.1 264.3L814.0 267.6L798.6 270.7L785.6 273.3L775.6 275.4L767.9 277.0L761.9 278.4L756.6 279.6L751.5 280.8L745.6 282.1L739.2 283.5L732.8 284.8L726.5 286.2L720.3 287.5L714.2 288.9L708.2 290.4L702.3 292.0L696.5 293.6L690.8 295.3L685.2 297.0L679.6 298.6L674.2 300.2L668.9 301.7L663.6 303.1L658.5 304.4L653.4 305.8L648.4 307.1L643.4 308.5L638.5 309.9L633.8 311.3L629.1 312.6L624.4 314.0L619.7 315.5L615.0 317.0L610.3 318.5L605.6 320.1L601.0 321.7L596.2 323.3L591.2 325.1L586.0 327.0L580.4 329.0L574.6 331.1L568.5 333.3L562.3 335.7L556.1 338.2L550.0 341.0L543.6 344.2L537.0 347.9L530.2 351.8L523.8 355.6L518.0 359.1L513.0 362.0L509.1 364.3L506.0 366.2L503.6 367.8L501.4 369.2L499.3 370.6L497.0 372.0L494.5 373.4L492.1 374.8L489.8 376.1L487.4 377.4L485.2 378.7L483.0 380.0L480.9 381.3L478.8 382.7L476.8 384.0L474.8 385.3L472.9 386.7L471.0 388.0L469.2 389.4L467.5 390.7L465.8 392.1L464.2 393.4L462.6 394.8L461.0 396.0L459.4 397.2L457.9 398.2L456.4 399.3L454.9 400.3L453.4 401.4L452.0 402.5L450.6 403.7L449.2 405.0L447.8 406.3L446.5 407.6L445.2 408.9L444.0 410.0L442.8 411.0L441.8 412.0L440.7 412.9L439.7 413.7L438.6 414.6L437.5 415.5L436.3 416.4L435.0 417.3L433.7 418.2L432.4 419.1L431.1 420.0L430.0 421.0L429.0 422.0L428.2 423.1L427.4 424.1L426.6 425.2L425.8 426.4L425.0 427.6L424.1 428.9L423.1 430.3L422.1 431.7L421.2 433.2L420.2 434.6L419.3 436.0L418.4 437.4L417.6 438.7L416.8 440.0L416.0 441.3L415.3 442.7L414.6 444.1L414.0 445.6L413.4 447.1L412.9 448.6L412.4 450.2L411.9 451.7L411.4 453.2L410.9 454.6L410.4 456.0L409.8 457.3L409.3 458.7L408.8 460.1L408.2 461.7L407.6 463.4L406.9 465.3L406.3 467.2L405.6 469.1L405.0 471.1L404.5 473.0L404.1 474.8L403.7 476.7L403.4 478.5L403.1 480.3L402.7 482.2L402.3 484.2L401.8 486.3L401.3 488.4L400.7 490.7L400.2 492.9L399.6 495.2L399.1 497.6L398.6 500.0L398.1 502.4L397.7 504.9L397.2 507.5L396.8 510.0L396.4 512.6L396.0 515.2L395.7 517.8L395.3 520.5L395.0 523.2L394.6 525.9L394.3 528.7L393.9 531.5L393.5 534.3L393.1 537.2L392.7 540.1L392.4 543.0L392.1 545.8L391.9 548.7L391.7 551.6L391.5 554.4L391.4 557.3L391.3 560.0L391.1 562.5L390.9 564.7L390.8 566.6L390.7 568.4L390.5 570.2L390.3 572.3L390.0 574.8L389.6 577.6L389.2 580.4L388.7 583.5L388.2 587.1L387.7 591.2L387.3 596.2L386.9 602.1L386.5 608.9L386.1 616.3L385.7 624.1L385.4 632.1L385.0 640.0L384.6 647.7L384.3 655.5L384.0 663.4L383.7 671.6L383.3 680.4L383.0 690.0L382.7 699.7L382.3 709.3L382.0 719.4L381.7 730.7L381.3 744.1L381.0 760.0L380.7 779.1L380.3 800.7L379.9 824.4L379.6 849.3L379.3 874.7L379.0 900.0L378.8 925.7L378.6 952.6L378.4 980.0L378.3 1007.4L378.2 1034.3L378.0 1060.0L377.8 1084.1L377.6 1107.0L377.5 1129.3L377.3 1151.8L377.1 1175.1L377.0 1200.0L376.9 1228.7L376.8 1261.0L376.7 1294.2L376.6 1325.5L376.5 1352.0L376.5 1371.0L376.5 1368.3L376.6 1365.1L376.7 1361.1L376.8 1355.9L376.9 1348.9L377.0 1340.0L377.1 1328.5L377.2 1314.7L377.3 1299.3L377.4 1282.9L377.6 1266.3L378.0 1250.0L378.5 1234.0L379.0 1217.6L379.7 1201.0L380.4 1184.1L381.2 1167.1L382.1 1150.0L383.1 1132.0L384.3 1112.8L385.6 1093.5L386.9 1075.1L388.0 1058.5L388.9 1044.8L389.5 1034.6L389.8 1027.1L390.0 1021.6L390.2 1016.9L390.4 1012.3L390.8 1006.7L391.3 1000.4L391.9 994.0L392.5 987.7L393.1 981.3L393.8 975.0L394.6 968.6L395.4 962.2L396.3 955.9L397.2 949.5L398.2 943.2L399.2 936.9L400.3 930.5L401.5 924.1L402.8 917.6L404.1 911.1L405.5 904.7L406.7 898.4L407.9 892.4L408.9 886.5L409.9 880.8L410.8 875.1L411.6 869.7L412.5 864.7L413.4 860.0L414.3 855.8L415.3 852.1L416.3 848.6L417.2 845.4L418.2 842.2L419.0 839.0L419.7 835.8L420.4 832.7L421.0 829.7L421.6 826.6L422.2 823.6L423.0 820.5L423.9 817.3L424.9 814.1L425.9 810.8L427.0 807.5L428.0 804.2L429.0 801.0L429.9 797.8L430.8 794.6L431.7 791.4L432.6 788.2L433.5 785.1L434.5 782.0L435.6 779.0L436.8 776.1L438.0 773.3L439.2 770.3L440.4 767.3L441.7 764.0L443.0 760.4L444.3 756.4L445.6 752.4L446.9 748.3L448.2 744.4L449.5 740.9L450.8 737.7L452.0 734.8L453.2 732.1L454.5 729.4L455.7 726.9L457.0 724.4L458.3 722.0L459.5 719.7L460.8 717.5L462.2 715.3L463.6 713.0L465.3 710.7L467.2 708.2L469.3 705.6L471.5 703.0L473.8 700.4L476.0 697.9L478.2 695.6L480.3 693.6L482.3 691.8L484.3 690.1L486.3 688.4L488.5 686.5L490.7 684.4L493.1 682.0L495.6 679.4L498.1 676.7L500.7 673.9L503.3 671.1L505.9 668.3L508.4 665.6L510.8 662.8L513.3 660.1L515.8 657.3L518.3 654.6L521.0 652.0L523.8 649.5L526.7 647.0L529.7 644.6L532.8 642.2L535.9 639.8L539.0 637.4L542.2 635.0L545.6 632.5L549.0 630.0L552.3 627.6L555.6 625.2L558.6 623.0L561.3 621.0L563.7 619.2L566.0 617.6L568.3 615.9L570.9 614.0L573.8 611.8L577.2 609.3L580.8 606.5L584.7 603.6L588.7 600.6L592.8 597.6L597.0 594.7L601.2 592.0L605.6 589.3L610.0 586.6L614.5 584.0L619.1 581.2L623.8 578.4L628.5 575.4L633.3 572.2L638.2 569.0L643.1 565.8L648.1 562.8L653.2 560.1L658.3 557.7L663.3 555.6L668.4 553.7L673.7 551.8L679.1 549.8L684.8 547.6L690.8 545.1L697.2 542.6L703.7 539.9L710.3 537.1L716.8 534.3L723.2 531.3L729.4 528.2L735.5 524.9L741.6 521.5L747.7 518.1L753.7 514.8L759.8 511.7L765.8 508.8L771.6 506.2L777.4 503.6L783.4 501.1L789.7 498.3L796.4 495.3L803.7 492.0L811.6 488.4L819.7 484.6L828.0 480.8L836.2 477.0L844.0 473.3L851.4 469.7L858.5 466.2L865.5 462.7L872.6 459.1L880.0 455.4L887.9 451.4L896.5 446.9L905.5 442.0L914.9 436.8L924.4 431.9L933.7 427.5L942.8 424.0L952.1 421.4L961.8 419.5L971.5 418.2L980.4 417.2L988.1 416.5L994.0 416.0L997.2 415.6L997.9 415.4L997.3 415.4L996.7 415.9L997.2 416.7L1000.0 418.0L1005.2 419.7L1011.9 421.8L1019.7 424.3L1028.2 427.3L1037.0 430.8L1045.7 434.9L1054.5 439.7L1063.7 445.2L1073.2 451.2L1082.9 457.6L1092.7 464.4L1102.5 471.5L1112.3 478.9L1122.3 486.7L1132.4 494.8L1142.5 503.3L1152.7 512.0L1162.9 520.9L1173.1 530.3L1183.4 540.4L1193.7 550.7L1204.1 560.9L1214.5 570.6L1225.0 579.5L1235.6 587.4L1246.4 594.7L1257.2 601.5L1268.1 608.0L1278.8 614.4L1289.3 620.7L1299.6 627.0L1309.8 633.1L1319.9 639.1L1330.0 644.9L1340.0 650.7L1350.0 656.4L1360.3 662.2L1370.8 668.0L1381.3 673.7L1391.5 679.3L1401.2 684.4L1410.0 689.0L1417.2 692.7L1422.9 695.7L1428.0 698.2L1433.5 700.8L1440.5 703.9L1450.0 708.0L1462.8 713.3L1478.3 719.4L1495.2 726.1L1512.4 732.8L1528.6 739.3L1542.7 745.0L1554.5 750.0L1564.8 754.8L1574.3 759.1L1583.2 763.2L1592.0 767.1L1601.3 770.7L1610.9 773.9L1620.4 776.7L1629.9 779.3L1639.3 781.8L1648.7 784.3L1658.0 787.0L1667.3 790.0L1676.6 793.2L1685.9 796.4L1695.0 799.5L1704.1 802.6L1713.0 805.5L1721.9 808.2L1730.9 810.7L1739.7 813.2L1748.3 815.5L1756.4 817.8L1764.0 820.0L1770.6 822.2L1776.4 824.4L1781.8 826.5L1787.1 828.5L1793.1 830.4L1800.0 832.0L1808.2 833.3L1817.4 834.4L1827.1 835.3L1836.9 836.1L1846.4 837.0L1855.0 838.0L1862.8 839.1L1870.1 840.3L1877.1 841.4L1883.9 842.6L1890.4 843.8L1897.0 845.0L1903.5 846.1L1909.7 847.3L1915.9 848.4L1921.9 849.5L1927.9 850.7L1934.0 852.0L1940.0 853.4L1946.0 854.8L1951.9 856.4L1957.9 857.9L1964.0 859.3L1970.4 860.7L1977.2 862.0L1984.4 863.3L1991.8 864.6L1999.1 865.8L2006.1 866.8L2012.5 867.5L2018.4 868.0L2024.1 868.2L2029.4 868.2L2034.4 868.1L2039.1 868.0L2043.6 868.0L2047.7 868.0L2051.5 868.1L2054.9 868.1L2058.2 868.1L2061.4 868.1L2064.6 868.0L2067.8 867.9L2070.9 867.7L2073.9 867.5L2076.8 867.2L2079.6 866.8L2082.3 866.4L2084.8 865.9L2087.1 865.3L2089.2 864.7L2091.4 863.9L2093.6 863.0L2096.0 862.0L2098.6 860.8L2101.4 859.4L2104.3 857.9L2107.2 856.2L2110.0 854.6L2112.6 853.0L2115.1 851.4L2117.6 849.7L2120.0 848.1L2122.3 846.4L2124.5 844.7L2126.5 843.0L2128.4 841.3L2130.2 839.6L2131.9 837.9L2133.5 836.2L2134.8 834.6L2136.0 833.0L2136.9 831.5L2137.6 829.9L2138.1 828.4L2138.5 827.0L2138.7 825.8L2139.0 825.0" fill="none" stroke="#0000ff" stroke-width="11.5" stroke-linejoin="round" stroke-linecap="round"/><path d="M376.5 1353.8L390.8 1379.8H362.2ZM376.5 1337.9L390.8 1363.9H362.2ZM376.6 1314.8L390.9 1340.8H362.3ZM376.7 1287.6L391.0 1313.6H362.4ZM376.7 1255.4L391.0 1281.4H362.4ZM376.9 1216.0L391.2 1242.0H362.6ZM377.1 1168.1L391.4 1194.1H362.8ZM377.5 1104.5L391.8 1130.5H363.2ZM378.1 1023.1L392.4 1049.1H363.8ZM378.6 934.9L392.9 960.9H364.3ZM379.4 850.4L393.7 876.4H365.1ZM380.4 779.0L394.7 805.0H366.1ZM381.4 723.3L395.7 749.3H367.1ZM382.7 680.5L397.0 706.5H368.4ZM384.0 645.6L398.3 671.6H369.7ZM385.3 615.9L399.6 641.9H371.0ZM386.6 590.7L400.9 616.7H372.3ZM388.4 568.9L402.7 594.9H374.1ZM390.9 548.1L405.2 574.1H376.6ZM392.1 529.2L406.4 555.2H377.8ZM394.4 510.9L408.7 536.9H380.1ZM396.6 493.9L410.9 519.9H382.3ZM399.6 478.0L413.9 504.0H385.3ZM403.1 463.1L417.4 489.1H388.8ZM406.6 449.0L420.9 475.0H392.3ZM410.9 437.4L425.2 463.4H396.6ZM413.6 429.4L427.9 455.4H399.3ZM417.3 421.9L431.6 447.9H403.0ZM421.8 415.0L436.1 441.0H407.5ZM426.6 408.0L440.9 434.0H412.3ZM432.4 401.9L446.7 427.9H418.1ZM439.7 396.5L454.0 422.5H425.4ZM447.0 390.0L461.3 416.0H432.7ZM454.4 383.5L468.7 409.5H440.1ZM463.0 377.2L477.3 403.2H448.7ZM471.9 370.1L486.2 396.1H457.6ZM482.1 363.3L496.4 389.3H467.8ZM494.0 356.5L508.3 382.5H479.7ZM506.5 348.8L520.8 374.8H492.2ZM520.7 340.2L535.0 366.2H506.4ZM536.5 330.9L550.8 356.9H522.2ZM554.7 321.7L569.0 347.7H540.4ZM575.5 313.6L589.8 339.6H561.2ZM598.6 305.3L612.9 331.3H584.3ZM624.4 296.8L638.7 322.8H610.1ZM651.9 289.0L666.2 315.0H637.6ZM682.2 280.7L696.5 306.7H667.9ZM714.2 271.7L728.5 297.7H699.9ZM749.3 264.1L763.6 290.1H735.0ZM787.6 255.7L801.9 281.7H773.3ZM828.6 247.6L842.9 273.6H814.3ZM872.5 238.9L886.8 264.9H858.2ZM919.4 229.2L933.7 255.2H905.1ZM969.6 218.8L983.9 244.8H955.3ZM1024.2 213.4L1038.5 239.4H1009.9ZM1082.5 210.8L1096.8 236.8H1068.2ZM1144.0 217.7L1158.3 243.7H1129.7ZM1199.5 251.2L1213.8 277.2H1185.2ZM1259.5 283.2L1273.8 309.2H1245.2ZM1321.5 315.0L1335.8 341.0H1307.2ZM1388.8 335.2L1403.1 361.2H1374.5ZM1453.8 360.4L1468.1 386.4H1439.5ZM1517.8 389.4L1532.1 415.4H1503.5ZM1579.8 418.6L1594.1 444.6H1565.5ZM1640.2 446.5L1654.5 472.5H1625.9ZM1695.6 477.5L1709.9 503.5H1681.3ZM1749.0 505.5L1763.3 531.5H1734.7ZM1798.0 534.3L1812.3 560.3H1783.7ZM1843.0 564.6L1857.3 590.6H1828.7ZM1885.1 592.7L1899.4 618.7H1870.8ZM1924.1 618.6L1938.4 644.6H1909.8ZM1956.6 645.1L1970.9 671.1H1942.3ZM1986.0 669.1L2000.3 695.1H1971.7ZM2012.6 690.2L2026.9 716.2H1998.3ZM2034.3 710.1L2048.6 736.1H2020.0ZM2053.7 727.2L2068.0 753.2H2039.4ZM2070.6 741.1L2084.9 767.1H2056.3ZM2084.9 753.5L2099.2 779.5H2070.6ZM2096.8 764.3L2111.1 790.3H2082.5ZM2107.3 773.5L2121.6 799.5H2093.0ZM2116.9 781.8L2131.2 807.8H2102.6ZM2125.6 789.1L2139.9 815.1H2111.3ZM2132.9 796.6L2147.2 822.6H2118.6ZM2138.0 804.9L2152.3 830.9H2123.7ZM376.6 1345.9L390.9 1371.9H362.3ZM377.0 1326.0L391.3 1352.0H362.7ZM377.1 1305.7L391.4 1331.7H362.8ZM377.3 1285.7L391.6 1311.7H363.0ZM377.4 1265.7L391.7 1291.7H363.1ZM377.7 1246.0L392.0 1272.0H363.4ZM378.2 1225.8L392.5 1251.8H363.9ZM378.8 1206.0L393.1 1232.0H364.5ZM379.6 1185.8L393.9 1211.8H365.3ZM380.5 1165.9L394.8 1191.9H366.2ZM381.4 1145.9L395.7 1171.9H367.1ZM382.5 1126.3L396.8 1152.3H368.2ZM383.7 1106.2L398.0 1132.2H369.4ZM385.0 1086.0L399.3 1112.0H370.7ZM386.3 1066.1L400.6 1092.1H372.0ZM387.7 1046.3L402.0 1072.3H373.4ZM389.0 1026.1L403.3 1052.1H374.7ZM390.0 1006.4L404.3 1032.4H375.7ZM391.1 986.3L405.4 1012.3H376.8ZM392.9 966.2L407.2 992.2H378.6ZM395.2 946.6L409.5 972.6H380.9ZM398.1 926.5L412.4 952.5H383.8ZM401.5 906.9L415.8 932.9H387.2ZM405.5 887.5L419.8 913.5H391.2ZM409.2 867.8L423.5 893.8H394.9ZM412.4 848.0L426.7 874.0H398.1ZM417.1 828.7L431.4 854.7H402.8ZM421.7 808.9L436.0 834.9H407.4ZM427.1 789.8L441.4 815.8H412.8ZM432.7 770.5L447.0 796.5H418.4ZM439.6 752.1L453.9 778.1H425.3ZM446.2 733.1L460.5 759.1H431.9ZM453.5 714.3L467.8 740.3H439.2ZM463.0 696.7L477.3 722.7H448.7ZM475.6 681.1L489.9 707.1H461.3ZM490.0 667.9L504.3 693.9H475.7ZM504.1 653.1L518.4 679.1H489.8ZM517.2 638.6L531.5 664.6H502.9ZM532.3 625.3L546.6 651.3H518.0ZM548.6 613.1L562.9 639.1H534.3ZM566.0 600.4L580.3 626.4H551.7ZM584.7 586.4L599.0 612.4H570.4ZM605.6 572.1L619.9 598.1H591.3ZM629.0 557.9L643.3 583.9H614.7ZM653.7 542.7L668.0 568.7H639.4ZM682.4 531.3L696.7 557.3H668.1ZM713.6 518.5L727.9 544.5H699.3ZM745.3 502.2L759.6 528.2H731.0ZM780.2 485.3L794.5 511.3H765.9ZM817.8 468.3L832.1 494.3H803.5ZM857.1 449.7L871.4 475.7H842.8ZM898.7 428.5L913.0 454.5H884.4ZM943.8 406.5L958.1 432.5H929.5ZM996.1 398.5L1010.4 424.5H981.8ZM1046.1 417.9L1060.4 443.9H1031.8ZM1096.4 449.9L1110.7 475.9H1082.1ZM1144.9 488.1L1159.2 514.1H1130.6ZM1192.6 532.4L1206.9 558.4H1178.3ZM1243.9 575.8L1258.2 601.8H1229.6ZM1303.6 612.2L1317.9 638.2H1289.3ZM1364.2 647.2L1378.5 673.2H1349.9ZM1426.1 680.1L1440.4 706.1H1411.8ZM1491.0 707.2L1505.3 733.2H1476.7ZM1555.4 733.3L1569.7 759.3H1541.1ZM1617.4 758.7L1631.7 784.7H1603.1ZM1679.0 776.8L1693.3 802.8H1664.7ZM1737.7 795.4L1752.0 821.4H1723.4ZM1792.6 813.0L1806.9 839.0H1778.3ZM1845.8 819.8L1860.1 845.8H1831.5ZM1895.5 827.5L1909.8 853.5H1881.2ZM1939.5 836.1L1953.8 862.1H1925.2ZM1978.2 845.0L1992.5 871.0H1963.9ZM2012.5 850.3L2026.8 876.3H1998.2ZM2041.4 850.8L2055.7 876.8H2027.1ZM2065.1 850.8L2079.4 876.8H2050.8ZM2085.3 848.5L2099.6 874.5H2071.0ZM2103.3 841.2L2117.6 867.2H2089.0ZM2120.5 830.5L2134.8 856.5H2106.2ZM2135.2 816.8L2149.5 842.8H2120.9Z" fill="#0000ff"/>
<path d="M2058.0 821.0L2056.2 820.3L2053.6 819.3L2050.7 818.1L2047.5 816.7L2044.3 815.4L2041.5 814.0L2039.0 812.6L2036.6 811.2L2034.3 809.8L2031.9 808.2L2029.5 806.6L2027.0 805.0L2024.4 803.3L2021.6 801.6L2018.8 799.8L2016.0 797.9L2013.2 796.0L2010.4 794.0L2007.7 791.9L2005.0 789.8L2002.3 787.6L1999.6 785.4L1996.8 783.2L1994.0 781.0L1991.1 778.9L1988.0 776.9L1985.0 774.9L1981.9 772.8L1978.8 770.7L1975.7 768.5L1972.7 766.2L1969.8 763.8L1966.9 761.4L1963.9 758.9L1960.8 756.4L1957.4 753.8L1953.8 751.2L1949.9 748.5L1946.0 745.8L1941.9 743.1L1937.7 740.3L1933.6 737.4L1929.5 734.5L1925.3 731.5L1921.1 728.6L1916.9 725.5L1912.5 722.3L1908.0 719.0L1903.4 715.6L1898.7 712.0L1893.9 708.4L1889.0 704.6L1883.9 700.8L1878.7 697.0L1873.2 693.1L1867.5 689.1L1861.7 685.1L1855.8 681.0L1849.8 677.0L1844.0 673.0L1838.3 669.1L1832.7 665.4L1827.1 661.7L1821.4 657.9L1815.5 654.0L1809.4 650.0L1803.0 645.8L1796.5 641.5L1789.8 637.1L1782.9 632.7L1776.0 628.1L1769.0 623.5L1761.9 618.8L1754.8 614.0L1747.6 609.1L1740.2 604.2L1732.8 599.2L1725.2 594.2L1717.5 589.1L1709.7 584.0L1701.9 578.8L1693.9 573.6L1685.8 568.3L1677.6 563.0L1669.3 557.6L1660.9 552.1L1652.3 546.5L1643.7 540.9L1635.1 535.4L1626.4 530.0L1617.7 524.7L1608.9 519.6L1600.1 514.5L1591.2 509.4L1582.3 504.3L1573.3 499.0L1564.3 493.7L1555.2 488.3L1546.0 482.9L1536.9 477.4L1527.6 471.8L1518.4 466.0L1509.1 459.9L1499.9 453.6L1490.6 447.2L1481.2 440.7L1471.8 434.3L1462.3 428.0L1452.7 421.8L1443.0 415.6L1433.2 409.4L1423.3 403.3L1413.5 397.3L1403.7 391.5L1393.9 385.9L1384.2 380.5L1374.4 375.2L1364.7 369.9L1354.9 364.5L1345.0 359.0L1335.0 353.2L1325.0 347.2L1314.9 341.2L1304.8 335.2L1294.8 329.4L1284.8 324.0L1274.9 318.9L1265.1 313.9L1255.3 309.1L1245.5 304.6L1235.8 300.3L1226.0 296.4L1216.3 293.0L1206.5 290.2L1196.8 287.7L1187.1 285.1L1177.4 282.3L1167.7 279.0L1157.6 275.0L1147.1 270.5L1136.5 265.7L1126.4 260.8L1117.1 256.2L1109.0 252.0L1102.3 248.2L1096.8 244.6L1092.1 241.2L1087.9 238.0L1084.0 234.9L1080.0 232.0L1076.1 229.3L1072.7 226.9L1069.4 224.6L1066.3 222.4L1063.2 220.2L1060.0 218.0L1056.7 215.7L1053.3 213.4L1050.0 211.1L1046.7 208.9L1043.3 206.8L1040.0 205.0L1036.7 203.4L1033.3 202.1L1030.0 200.9L1026.7 199.8L1023.3 198.9L1020.0 198.0L1016.7 197.2L1013.5 196.6L1010.3 196.0L1007.1 195.6L1003.7 195.2L1000.0 195.0L996.2 194.9L992.2 194.9L988.2 195.0L983.9 195.1L979.3 195.4L974.5 195.6L969.5 195.9L964.5 196.2L959.2 196.6L953.5 197.0L947.2 197.5L940.0 198.0L932.1 198.5L923.6 199.1L914.5 199.7L904.8 200.4L894.3 201.1L883.0 202.0L870.1 203.0L855.4 204.2L840.0 205.4L824.9 206.7L811.2 207.9L800.0 209.0L791.7 209.9L785.5 210.8L780.7 211.6L776.6 212.3L772.2 213.1L767.0 214.0L760.9 215.0L754.4 216.0L747.8 217.0L741.2 218.1L734.7 219.1L728.5 220.1L722.5 221.0L716.6 221.9L710.8 222.8L705.1 223.7L699.5 224.6L694.0 225.6L688.6 226.6L683.3 227.6L678.1 228.7L672.9 229.8L667.8 231.0L662.7 232.2L657.6 233.5L652.4 235.0L647.3 236.5L642.3 238.0L637.3 239.5L632.5 241.0L627.8 242.4L623.3 243.8L618.9 245.2L614.5 246.5L610.2 247.9L606.0 249.2L601.8 250.5L597.7 251.9L593.7 253.2L589.8 254.5L585.9 255.7L582.0 256.9L578.2 257.9L574.4 258.9L570.8 259.8L567.1 260.7L563.5 261.6L560.0 262.5L556.5 263.5L553.1 264.6L549.7 265.6L546.4 266.7L543.1 267.7L540.0 268.6L537.0 269.4L534.1 270.1L531.2 270.7L528.4 271.4L525.7 272.1L522.9 272.9L520.1 273.8L517.3 274.9L514.6 276.0L511.9 277.1L509.2 278.1L506.7 279.0L504.3 279.8L502.0 280.4L499.8 281.0L497.6 281.5L495.4 282.2L493.3 282.9L491.2 283.7L489.1 284.7L487.0 285.6L485.0 286.6L483.0 287.6L481.0 288.6L479.0 289.6L477.1 290.6L475.1 291.5L473.2 292.5L471.3 293.4L469.5 294.3L467.7 295.1L465.9 295.9L464.1 296.6L462.3 297.3L460.6 298.0L459.0 298.6L457.5 299.1L456.0 299.6L454.6 300.0L453.3 300.4L451.9 300.9L450.5 301.4L449.1 302.0L447.7 302.5L446.3 303.1L444.9 303.8L443.4 304.5L441.9 305.2L440.2 306.0L438.4 306.9L436.5 307.9L434.7 308.8L432.9 309.7L431.4 310.6L430.1 311.4L429.0 312.1L427.9 312.9L427.0 313.6L426.1 314.3L425.2 315.1L424.4 315.9L423.6 316.8L422.8 317.7L422.1 318.6L421.4 319.5L420.7 320.4L420.0 321.3L419.2 322.2L418.5 323.0L417.8 323.9L417.0 324.9L416.3 325.8L415.5 326.8L414.8 327.8L414.0 328.8L413.2 329.9L412.5 331.0L411.8 332.0L411.1 333.0L410.5 334.0L409.9 335.0L409.4 336.0L408.8 337.1L408.2 338.3L407.6 339.6L407.0 341.0L406.4 342.5L405.8 344.0L405.2 345.6L404.7 347.2L404.2 348.8L403.8 350.5L403.5 352.2L403.1 353.9L402.8 355.7L402.4 357.5L402.0 359.4L401.7 361.3L401.3 363.2L400.9 365.3L400.6 367.3L400.2 369.5L399.8 371.8L399.5 374.1L399.1 376.5L398.7 378.9L398.4 381.4L398.0 383.8L397.6 386.0L397.3 387.8L396.9 389.7L396.6 391.8L396.2 394.6L395.7 398.1L395.2 402.9L394.6 408.7L393.9 415.1L393.3 421.5L392.7 427.5L392.2 432.5L391.8 436.1L391.5 438.8L391.3 440.9L391.0 443.1L390.6 446.0L390.0 450.0L389.2 455.1L388.2 460.9L387.0 467.3L385.9 474.4L384.8 481.9L384.0 490.0L383.4 499.0L382.9 508.9L382.4 519.4L382.1 530.0L381.8 540.3L381.5 550.0L381.2 559.0L381.1 567.8L380.9 576.2L380.8 584.4L380.6 592.4L380.5 600.0L380.3 607.0L380.1 613.3L380.0 619.4L379.8 625.6L379.6 632.3L379.5 640.0L379.4 648.4L379.3 657.0L379.2 666.2L379.1 676.3L379.1 687.5L379.0 700.0L378.9 713.2L378.8 726.7L378.8 741.2L378.7 757.8L378.6 777.1L378.5 800.0L378.4 827.5L378.4 859.3L378.3 893.8L378.2 929.6L378.1 965.5L378.0 1000.0L377.9 1033.7L377.7 1067.7L377.5 1101.8L377.3 1135.5L377.1 1168.3L377.0 1200.0L376.9 1232.2L376.8 1265.5L376.7 1298.0L376.6 1327.7L376.5 1352.7L376.5 1371.0L376.9 1368.3L377.4 1365.1L378.0 1361.1L378.7 1355.9L379.3 1348.9L380.0 1340.0L380.6 1328.5L381.3 1314.7L382.0 1299.3L382.6 1282.9L383.3 1266.3L384.0 1250.0L384.6 1233.8L385.3 1217.0L385.9 1200.0L386.5 1183.0L387.2 1166.2L388.0 1150.0L388.9 1133.9L389.9 1117.6L391.0 1101.6L392.1 1086.4L393.1 1072.3L394.0 1060.0L394.8 1049.7L395.4 1041.1L396.0 1033.8L396.6 1027.1L397.2 1020.7L398.0 1014.0L398.9 1007.2L399.8 1000.8L400.8 994.6L401.9 988.5L402.9 982.4L404.0 976.0L405.1 969.4L406.2 962.8L407.4 956.1L408.6 949.4L409.8 942.7L411.0 936.0L412.3 929.3L413.6 922.6L414.9 915.9L416.2 909.2L417.6 902.6L419.0 896.0L420.4 889.4L421.9 882.8L423.4 876.2L424.9 869.9L426.4 863.7L428.0 858.0L429.6 852.7L431.2 847.7L432.8 843.0L434.5 838.5L436.2 834.2L438.0 830.0L439.9 826.1L441.8 822.4L443.8 819.0L445.9 815.6L447.9 811.9L450.0 808.0L452.1 803.6L454.3 798.8L456.4 793.9L458.6 789.0L460.8 784.3L463.0 780.0L465.2 776.2L467.4 772.7L469.6 769.5L471.7 766.4L473.9 763.2L476.0 760.0L478.1 756.7L480.1 753.3L482.1 750.0L484.0 746.7L486.0 743.3L488.0 740.0L490.0 736.7L492.0 733.3L494.0 729.9L496.0 726.6L498.0 723.3L500.0 720.0L501.9 716.8L503.7 713.6L505.4 710.5L507.3 707.4L509.5 704.2L512.0 701.0L514.8 697.8L517.8 694.7L521.0 691.6L524.6 688.4L528.5 684.9L533.0 681.0L538.1 676.7L543.7 672.1L549.7 667.2L556.0 662.1L562.5 657.1L569.0 652.0L575.8 646.8L583.0 641.4L590.4 635.9L597.7 630.5L604.7 625.5L611.0 621.0L616.6 617.1L621.8 613.6L626.5 610.4L631.1 607.5L635.5 604.7L640.0 602.0L644.3 599.4L648.3 597.1L652.2 595.0L656.2 592.8L660.7 590.7L665.7 588.4L671.5 586.0L677.9 583.6L684.7 581.2L691.6 578.7L698.5 576.1L705.0 573.3L711.2 570.3L717.4 567.1L723.4 563.9L729.4 560.5L735.4 557.1L741.5 553.8L747.5 550.5L753.4 547.2L759.3 543.9L765.3 540.6L771.5 537.2L778.0 533.7L784.9 530.2L792.1 526.6L799.5 523.1L807.1 519.4L814.6 515.6L822.0 511.7L829.3 507.7L836.5 503.5L843.8 499.3L851.1 495.0L858.5 490.5L866.0 486.0L873.7 481.3L881.6 476.4L889.5 471.5L897.5 466.5L905.5 461.6L913.5 456.9L921.5 452.3L929.6 447.8L937.8 443.3L945.8 439.0L953.6 434.9L961.0 431.0L968.3 427.2L975.5 423.5L982.5 420.0L989.0 416.8L994.9 414.1L1000.0 412.0L1003.8 410.6L1006.4 409.8L1008.3 409.5L1010.2 409.5L1012.6 409.7L1016.0 410.0L1020.8 410.4L1026.4 411.0L1032.6 411.8L1038.8 412.8L1044.8 413.8L1050.0 414.8L1054.1 415.6L1057.2 416.1L1060.0 416.6L1063.1 417.6L1067.2 419.3L1073.0 422.0L1080.7 425.9L1089.9 430.8L1100.1 436.3L1110.8 442.4L1121.5 448.7L1131.7 455.0L1141.5 461.4L1151.2 468.2L1161.0 475.1L1170.8 482.3L1180.5 489.7L1190.3 497.1L1200.1 504.8L1209.9 512.7L1219.7 520.8L1229.5 528.9L1239.3 536.9L1248.9 544.7L1258.4 552.3L1267.8 559.8L1277.1 567.3L1286.5 574.6L1295.9 581.9L1305.4 589.0L1315.1 596.0L1324.9 602.8L1334.7 609.5L1344.6 616.2L1354.5 622.8L1364.3 629.6L1374.1 636.5L1383.9 643.4L1393.7 650.3L1403.6 657.2L1413.4 664.1L1423.2 670.7L1433.1 677.2L1443.0 683.6L1453.0 689.8L1462.9 696.0L1472.7 702.1L1482.3 708.2L1491.7 714.3L1501.0 720.4L1510.1 726.4L1519.2 732.3L1528.2 737.9L1537.2 743.2L1546.2 748.1L1555.1 752.6L1564.0 756.9L1572.8 761.0L1581.6 764.9L1590.3 768.9L1599.0 772.8L1607.6 776.5L1616.1 780.2L1624.6 783.8L1633.1 787.3L1641.5 790.8L1649.9 794.3L1658.1 797.8L1666.4 801.2L1674.6 804.6L1682.8 807.9L1691.0 811.0L1699.2 814.0L1707.4 816.8L1715.5 819.5L1723.7 822.2L1732.0 824.8L1740.3 827.4L1749.0 830.0L1758.2 832.7L1767.4 835.4L1776.2 837.9L1784.5 840.1L1791.6 842.0L1797.4 843.4L1802.0 844.4L1805.9 845.1L1809.6 845.7L1813.6 846.6L1818.3 847.7L1823.8 849.3L1829.8 851.2L1836.0 853.3L1842.4 855.3L1848.8 857.1L1855.0 858.6L1861.1 859.6L1867.2 860.4L1873.3 860.9L1879.3 861.3L1885.4 861.8L1891.5 862.3L1897.6 862.9L1903.7 863.6L1909.7 864.3L1915.8 864.9L1921.9 865.5L1928.0 866.0L1934.1 866.5L1940.2 867.1L1946.4 867.6L1952.5 868.0L1958.6 868.1L1964.7 867.8L1970.9 867.1L1977.1 866.1L1983.4 864.8L1989.6 863.3L1995.5 861.7L2001.0 859.8L2006.2 857.7L2011.1 855.3L2015.8 852.7L2020.3 850.0L2024.6 847.4L2028.7 844.8L2032.8 842.3L2036.8 839.6L2040.6 837.0L2044.1 834.5L2047.3 832.1L2050.0 830.0L2052.2 828.1L2053.9 826.2L2055.3 824.6L2056.4 823.1L2057.3 821.9L2058.0 821.0" fill="none" stroke="#008000" stroke-width="11.5" stroke-linejoin="round" stroke-linecap="round"/><path d="M376.5 1387.6L390.8 1362.8H362.2ZM376.5 1382.5L390.8 1357.7H362.2ZM376.6 1360.7L390.9 1335.9H362.3ZM376.6 1335.3L390.9 1310.5H362.3ZM376.7 1306.1L391.0 1281.3H362.4ZM376.8 1270.5L391.1 1245.7H362.5ZM377.0 1227.2L391.3 1202.4H362.7ZM377.2 1172.3L391.5 1147.5H362.9ZM377.6 1098.9L391.9 1074.1H363.3ZM378.0 1013.0L392.3 988.2H363.7ZM378.2 925.5L392.5 900.7H363.9ZM378.4 846.7L392.7 821.9H364.1ZM378.6 783.0L392.9 758.2H364.3ZM378.9 733.9L393.2 709.1H364.6ZM379.1 695.9L393.4 671.1H364.8ZM379.4 663.9L393.7 639.1H365.1ZM380.0 636.5L394.3 611.7H365.7ZM380.6 613.0L394.9 588.2H366.3ZM380.9 592.3L395.2 567.5H366.6ZM381.3 572.1L395.6 547.3H367.0ZM381.9 553.3L396.2 528.5H367.6ZM382.4 536.0L396.7 511.2H368.1ZM383.2 519.2L397.5 494.4H368.9ZM384.3 503.6L398.6 478.8H370.0ZM386.3 488.4L400.6 463.6H372.0ZM388.7 474.4L403.0 449.6H374.4ZM390.8 460.9L405.1 436.1H376.5ZM392.3 448.6L406.6 423.8H378.0ZM393.5 436.0L407.8 411.2H379.2ZM394.7 424.2L409.0 399.4H380.4ZM396.0 412.7L410.3 387.9H381.7ZM397.8 401.5L412.1 376.7H383.5ZM399.3 391.9L413.6 367.1H385.0ZM400.6 383.9L414.9 359.1H386.3ZM402.2 375.4L416.5 350.6H387.9ZM403.7 367.6L418.0 342.8H389.4ZM406.2 359.6L420.5 334.8H391.9ZM409.6 352.1L423.9 327.3H395.3ZM414.4 344.9L428.7 320.1H400.1ZM419.6 338.3L433.9 313.5H405.3ZM424.8 332.1L439.1 307.3H410.5ZM431.9 326.9L446.2 302.1H417.6ZM440.2 322.6L454.5 297.8H425.9ZM449.1 318.6L463.4 293.8H434.8ZM459.0 315.2L473.3 290.4H444.7ZM469.5 310.9L483.8 286.1H455.2ZM481.0 305.2L495.3 280.4H466.7ZM493.8 299.3L508.1 274.5H479.5ZM509.2 294.7L523.5 269.9H494.9ZM526.2 288.6L540.5 263.8H511.9ZM545.3 283.6L559.6 258.8H531.0ZM566.6 277.4L580.9 252.6H552.3ZM590.7 270.8L605.0 246.0H576.4ZM616.4 262.5L630.7 237.7H602.1ZM644.8 253.9L659.1 229.1H630.5ZM675.0 246.0L689.3 221.2H660.7ZM708.7 239.7L723.0 214.9H694.4ZM745.3 234.0L759.6 209.2H731.0ZM785.0 227.5L799.3 202.7H770.7ZM827.9 223.1L842.2 198.3H813.6ZM874.7 219.3L889.0 194.5H860.4ZM924.7 215.6L939.0 190.8H910.4ZM978.3 212.0L992.6 187.2H964.0ZM1034.8 219.3L1049.1 194.5H1020.5ZM1085.3 252.5L1099.6 227.7H1071.0ZM1140.6 284.1L1154.9 259.3H1126.3ZM1204.1 306.2L1218.4 281.4H1189.8ZM1268.7 332.3L1283.0 307.5H1254.4ZM1329.8 366.7L1344.1 341.9H1315.5ZM1390.8 400.8L1405.1 376.0H1376.5ZM1450.6 437.0L1464.9 412.2H1436.3ZM1508.3 476.0L1522.6 451.2H1494.0ZM1565.2 510.8L1579.5 486.0H1550.9ZM1620.7 543.2L1635.0 518.4H1606.4ZM1672.4 576.2L1686.7 551.4H1658.1ZM1720.5 607.7L1734.8 582.9H1706.2ZM1765.9 638.0L1780.2 613.2H1751.6ZM1808.6 666.0L1822.9 641.2H1794.3ZM1847.8 692.1L1862.1 667.3H1833.5ZM1882.2 716.1L1896.5 691.3H1867.9ZM1912.1 738.6L1926.4 713.8H1897.8ZM1939.1 757.8L1953.4 733.0H1924.8ZM1962.3 774.2L1976.6 749.4H1948.0ZM1981.0 788.8L1995.3 764.0H1966.7ZM1997.6 800.4L2011.9 775.6H1983.3ZM2011.3 811.3L2025.6 786.5H1997.0ZM2023.0 819.0L2037.3 794.2H2008.7ZM2033.8 826.0L2048.1 801.2H2019.5ZM2043.4 831.5L2057.7 806.7H2029.1ZM2052.7 835.5L2067.0 810.7H2038.4ZM378.9 1369.8L393.2 1345.0H364.6ZM380.4 1349.8L394.7 1325.0H366.1ZM381.4 1329.8L395.7 1305.0H367.1ZM382.2 1309.8L396.5 1285.0H367.9ZM383.0 1289.9L397.3 1265.1H368.7ZM383.9 1270.2L398.2 1245.4H369.6ZM384.7 1249.9L399.0 1225.1H370.4ZM385.4 1230.1L399.7 1205.3H371.1ZM386.1 1210.1L400.4 1185.3H371.8ZM386.9 1189.9L401.2 1165.1H372.6ZM387.8 1170.1L402.1 1145.3H373.5ZM388.9 1150.0L403.2 1125.2H374.6ZM390.2 1130.2L404.5 1105.4H375.9ZM391.6 1110.1L405.9 1085.3H377.3ZM393.0 1090.4L407.3 1065.6H378.7ZM394.5 1070.4L408.8 1045.6H380.2ZM396.0 1050.3L410.3 1025.5H381.7ZM398.0 1030.6L412.3 1005.8H383.7ZM400.9 1010.7L415.2 985.9H386.6ZM404.3 991.1L418.6 966.3H390.0ZM407.6 971.2L421.9 946.4H393.3ZM411.2 951.6L425.5 926.8H396.9ZM415.0 932.0L429.3 907.2H400.7ZM419.0 912.6L433.3 887.8H404.7ZM423.4 892.9L437.7 868.0H409.1ZM428.3 873.6L442.6 848.8H414.0ZM434.7 854.6L449.0 829.8H420.4ZM443.2 836.6L457.5 811.8H428.9ZM452.8 818.8L467.1 794.0H438.5ZM460.8 800.9L475.1 776.1H446.5ZM471.4 783.4L485.7 758.6H457.1ZM482.1 766.6L496.4 741.8H467.8ZM492.3 749.4L506.6 724.6H478.0ZM502.4 732.5L516.7 707.7H488.1ZM513.8 715.6L528.1 690.8H499.5ZM528.1 701.8L542.4 677.0H513.8ZM543.3 689.0L557.6 664.2H529.0ZM560.5 675.2L574.8 650.4H546.2ZM579.8 660.4L594.1 635.6H565.5ZM600.6 645.1L614.9 620.3H586.3ZM623.1 629.3L637.4 604.5H608.8ZM648.3 613.7L662.6 588.9H634.0ZM677.4 600.4L691.7 575.6H663.1ZM709.3 587.8L723.6 563.0H695.0ZM742.0 570.1L756.3 545.3H727.7ZM776.6 551.0L790.9 526.2H762.3ZM814.6 532.2L828.9 507.4H800.3ZM854.1 509.7L868.4 484.9H839.8ZM895.3 484.5L909.6 459.7H881.0ZM940.0 458.7L954.3 433.9H925.7ZM988.6 433.6L1002.9 408.8H974.3ZM1044.8 430.4L1059.1 405.6H1030.5ZM1101.5 453.7L1115.8 428.9H1087.2ZM1156.1 488.2L1170.4 463.4H1141.8ZM1209.9 529.3L1224.2 504.5H1195.6ZM1264.3 573.6L1278.6 548.8H1250.0ZM1319.8 615.8L1334.1 591.0H1305.5ZM1377.8 655.7L1392.1 630.9H1363.5ZM1435.3 695.2L1449.6 670.4H1421.0ZM1494.2 732.6L1508.5 707.8H1479.9ZM1552.0 767.6L1566.3 742.8H1537.7ZM1610.4 794.4L1624.7 769.6H1596.1ZM1667.3 818.2L1681.6 793.4H1653.0ZM1721.8 838.2L1736.1 813.4H1707.5ZM1773.8 853.8L1788.1 829.0H1759.5ZM1822.8 865.6L1837.1 840.8H1808.5ZM1865.7 876.8L1880.0 852.0H1851.4ZM1904.7 880.3L1919.0 855.5H1890.4ZM1938.7 883.6L1953.0 858.8H1924.4ZM1966.2 884.2L1980.5 859.4H1951.9ZM1988.5 880.2L2002.8 855.4H1974.2ZM2007.7 873.6L2022.0 848.8H1993.4ZM2025.0 863.7L2039.3 838.9H2010.7ZM2041.5 853.0L2055.8 828.2H2027.2ZM2056.4 839.7L2070.7 814.9H2042.1Z" fill="#008000"/>
<path d="M2056.0 816.0L2055.2 815.2L2054.1 814.2L2052.8 813.0L2051.3 811.7L2049.7 810.3L2048.0 809.0L2046.2 807.8L2044.2 806.6L2042.1 805.3L2039.8 804.0L2037.5 802.6L2035.0 801.0L2032.4 799.2L2029.5 797.3L2026.5 795.2L2023.5 793.1L2020.6 791.0L2018.0 789.0L2015.6 787.1L2013.3 785.2L2011.1 783.4L2009.0 781.6L2007.0 779.8L2005.0 778.0L2003.1 776.3L2001.4 774.7L1999.7 773.1L1998.0 771.5L1996.1 769.8L1994.0 768.0L1991.6 766.1L1989.0 764.1L1986.3 762.1L1983.5 759.9L1980.5 757.6L1977.5 755.0L1974.4 752.1L1971.1 748.9L1967.8 745.6L1964.4 742.2L1960.9 738.8L1957.4 735.5L1953.9 732.4L1950.4 729.4L1946.9 726.4L1943.2 723.4L1939.4 720.3L1935.4 717.2L1931.2 714.0L1926.7 710.7L1922.2 707.3L1917.5 703.9L1912.7 700.5L1908.0 697.0L1903.3 693.5L1898.5 689.9L1893.7 686.2L1888.8 682.5L1883.8 678.8L1878.7 675.0L1873.5 671.1L1868.1 667.2L1862.6 663.2L1857.1 659.2L1851.4 655.2L1845.7 651.4L1839.9 647.8L1834.0 644.3L1828.0 640.9L1821.9 637.4L1815.7 633.8L1809.4 630.0L1802.9 625.9L1796.4 621.7L1789.7 617.3L1782.9 612.8L1776.0 608.2L1769.0 603.4L1762.0 598.5L1754.8 593.4L1747.6 588.2L1740.3 583.0L1732.8 577.6L1725.2 572.3L1717.4 566.9L1709.4 561.4L1701.4 555.9L1693.2 550.4L1684.9 544.8L1676.7 539.3L1668.5 533.8L1660.2 528.4L1651.8 523.0L1643.4 517.5L1635.0 512.0L1626.4 506.4L1617.7 500.6L1609.0 494.7L1600.1 488.7L1591.2 482.7L1582.3 477.0L1573.3 471.6L1564.1 466.6L1554.5 462.1L1544.9 457.7L1535.5 453.3L1526.6 448.9L1518.4 444.2L1510.8 439.0L1503.7 433.4L1497.1 427.8L1490.9 422.3L1485.2 417.2L1480.0 413.0L1475.8 409.9L1472.7 407.8L1470.1 406.1L1467.4 404.4L1463.9 402.2L1459.0 399.0L1452.5 394.5L1444.7 389.0L1436.2 382.9L1427.5 376.8L1418.9 371.0L1411.0 366.0L1403.7 361.8L1396.5 358.0L1389.5 354.5L1382.7 351.3L1376.2 348.1L1370.0 345.0L1364.1 342.0L1358.7 339.2L1353.4 336.6L1348.3 333.9L1343.2 331.1L1337.9 328.0L1332.3 324.6L1326.6 321.0L1320.8 317.2L1315.2 313.4L1309.9 309.7L1305.0 306.0L1300.7 302.5L1296.9 299.1L1293.4 295.7L1290.0 292.3L1286.6 288.7L1283.0 285.0L1279.2 281.0L1275.5 276.8L1271.7 272.5L1267.9 268.2L1264.0 263.8L1260.0 259.5L1256.0 255.2L1251.8 250.9L1247.6 246.6L1243.4 242.3L1239.2 238.1L1235.0 234.0L1230.9 229.9L1227.0 225.7L1223.0 221.6L1218.9 217.7L1214.6 214.2L1209.8 211.0L1204.6 208.3L1198.9 205.8L1193.0 203.7L1187.0 201.9L1180.9 200.4L1175.0 199.3L1169.2 198.7L1163.5 198.6L1157.8 198.8L1152.0 199.2L1146.1 199.7L1140.0 200.0L1133.8 200.2L1127.5 200.5L1121.1 200.8L1114.4 201.1L1107.4 201.5L1100.0 202.0L1092.0 202.6L1083.6 203.3L1074.8 204.1L1065.8 204.9L1056.7 205.8L1047.7 206.6L1038.9 207.3L1030.3 207.9L1021.6 208.5L1012.6 209.3L1003.0 210.4L992.8 212.0L981.7 214.2L969.8 216.9L957.4 220.0L944.7 223.1L932.0 226.0L919.6 228.6L907.0 230.8L894.1 232.9L881.1 234.8L868.5 236.6L856.7 238.1L846.0 239.5L836.6 240.6L828.2 241.4L820.6 242.1L813.5 242.7L806.7 243.3L800.0 244.0L793.6 244.8L787.7 245.7L782.1 246.6L776.7 247.5L771.1 248.5L765.2 249.5L759.0 250.6L752.5 251.8L746.0 253.1L739.5 254.4L733.0 255.7L726.8 257.0L720.8 258.3L714.9 259.6L709.1 261.0L703.4 262.3L697.8 263.7L692.2 265.0L686.6 266.3L681.1 267.6L675.6 268.9L670.2 270.3L664.9 271.6L659.8 273.0L654.8 274.4L649.9 275.9L645.2 277.4L640.5 279.0L635.9 280.5L631.3 282.0L626.8 283.5L622.3 285.0L617.9 286.6L613.5 288.1L609.2 289.6L604.9 291.0L600.7 292.4L596.6 293.6L592.6 294.9L588.5 296.1L584.3 297.5L580.0 299.0L575.4 300.6L570.7 302.4L565.9 304.2L561.1 306.1L556.2 308.1L551.4 310.0L546.6 311.9L541.9 313.9L537.1 315.8L532.4 317.8L527.7 319.9L522.9 322.0L518.0 324.3L513.0 326.6L508.0 329.1L503.1 331.5L498.5 333.8L494.3 336.0L490.7 338.0L487.5 339.8L484.7 341.6L481.9 343.3L479.1 345.1L476.0 347.0L472.6 349.1L469.1 351.2L465.5 353.4L462.0 355.7L458.4 357.9L455.0 360.0L451.7 362.1L448.3 364.1L445.1 366.1L441.9 368.1L438.9 370.1L436.0 372.0L433.3 373.9L430.8 375.8L428.4 377.6L426.1 379.4L424.0 381.2L422.0 383.0L420.2 384.7L418.5 386.3L417.0 387.9L415.6 389.6L414.3 391.2L413.0 393.0L411.8 394.9L410.7 396.9L409.7 399.0L408.7 401.1L407.8 403.1L407.0 405.0L406.2 406.8L405.4 408.5L404.8 410.1L404.1 411.7L403.5 413.4L403.0 415.0L402.6 416.7L402.2 418.3L401.9 420.0L401.6 421.7L401.3 423.3L401.0 425.0L400.7 426.7L400.3 428.3L399.9 430.0L399.6 431.7L399.3 433.3L399.0 435.0L398.8 436.7L398.6 438.3L398.4 439.9L398.3 441.6L398.2 443.3L398.0 445.0L397.8 446.7L397.7 448.4L397.5 450.2L397.4 452.0L397.2 453.9L397.0 456.0L396.8 458.3L396.5 460.7L396.3 463.3L396.0 465.9L395.8 468.5L395.5 471.0L395.2 473.4L395.0 475.7L394.8 478.0L394.5 480.3L394.2 482.6L394.0 485.0L393.8 487.4L393.5 489.9L393.2 492.3L393.0 494.8L392.8 497.4L392.5 500.0L392.2 502.7L392.0 505.6L391.8 508.4L391.5 511.3L391.2 514.2L391.0 517.0L390.8 519.7L390.5 522.4L390.2 525.1L390.0 527.8L389.8 530.4L389.5 533.0L389.2 535.5L389.0 538.0L388.8 540.4L388.5 542.8L388.2 545.3L388.0 548.0L387.8 550.7L387.5 553.4L387.2 556.1L387.0 559.1L386.8 562.3L386.5 566.0L386.2 570.1L386.0 574.6L385.8 579.4L385.5 584.5L385.2 589.7L385.0 595.0L384.8 600.4L384.5 606.0L384.2 611.8L384.0 617.7L383.8 623.8L383.5 630.0L383.2 636.3L383.0 642.6L382.7 649.1L382.5 655.7L382.2 662.7L382.0 670.0L381.8 677.4L381.6 684.8L381.5 692.5L381.4 700.7L381.2 709.8L381.0 720.0L380.8 731.4L380.5 743.7L380.2 756.9L380.0 770.7L379.7 785.2L379.5 800.0L379.3 814.8L379.1 829.6L379.0 845.0L378.9 861.5L378.7 879.6L378.5 900.0L378.3 923.4L378.0 949.6L377.7 977.5L377.4 1005.9L377.2 1033.8L377.0 1060.0L376.9 1084.1L376.7 1107.0L376.7 1129.3L376.6 1151.8L376.5 1175.1L376.5 1200.0L376.5 1228.7L376.5 1261.0L376.5 1294.2L376.5 1325.5L376.5 1352.0L376.5 1371.0L376.8 1368.3L377.1 1365.1L377.5 1361.1L378.0 1355.9L378.5 1348.9L379.0 1340.0L379.6 1328.5L380.2 1314.7L380.9 1299.3L381.6 1282.9L382.3 1266.3L383.0 1250.0L383.7 1233.8L384.3 1217.0L385.0 1200.0L385.7 1183.0L386.3 1166.2L387.0 1150.0L387.7 1133.8L388.4 1117.2L389.1 1100.9L389.8 1085.5L390.5 1071.7L391.0 1060.0L391.4 1051.1L391.7 1044.6L392.0 1039.6L392.2 1035.4L392.5 1031.0L392.9 1025.7L393.4 1019.6L394.0 1013.3L394.6 1006.9L395.3 1000.4L396.0 994.0L396.7 987.6L397.4 981.2L398.2 974.9L398.9 968.5L399.7 962.2L400.6 955.9L401.4 949.5L402.2 943.1L403.0 936.8L403.9 930.5L404.8 924.1L405.8 917.8L407.0 911.4L408.4 904.9L409.9 898.3L411.6 891.7L413.3 885.3L415.0 879.1L416.7 873.3L418.3 868.0L420.0 863.2L421.6 858.6L423.2 854.1L424.8 849.6L426.2 844.8L427.5 839.6L428.6 834.1L429.7 828.5L430.8 823.1L431.8 818.1L432.9 813.6L434.0 809.8L435.1 806.6L436.2 803.8L437.2 801.1L438.3 798.5L439.4 795.7L440.5 792.6L441.5 789.5L442.6 786.3L443.6 783.3L444.8 780.5L446.0 778.2L447.3 776.6L448.7 775.6L450.2 775.0L451.7 774.2L453.3 772.9L454.8 770.6L456.4 767.2L458.1 763.0L459.8 758.2L461.4 753.2L463.0 748.3L464.3 743.9L465.2 740.0L465.6 736.3L465.8 732.7L466.3 729.1L467.4 725.3L469.3 721.3L472.3 717.0L476.0 712.4L480.3 707.7L485.0 702.9L489.7 698.1L494.3 693.3L498.8 688.6L503.3 683.8L507.9 679.0L512.7 674.3L517.7 669.5L522.9 664.7L528.4 659.9L534.3 655.0L540.3 650.1L546.4 645.2L552.6 640.5L558.6 636.0L564.6 631.7L570.5 627.5L576.5 623.4L582.4 619.5L588.4 615.6L594.3 611.8L600.2 608.1L606.2 604.4L612.1 600.9L618.1 597.4L624.0 594.0L630.0 590.6L636.0 587.2L642.0 583.9L647.9 580.6L653.9 577.4L659.8 574.2L665.7 571.1L671.2 568.2L676.3 565.5L681.3 563.0L686.7 560.2L692.8 557.1L700.0 553.4L708.5 549.0L718.2 543.9L728.6 538.5L739.3 533.0L749.8 527.7L759.8 522.7L769.2 518.2L778.5 513.9L787.6 509.8L796.6 505.7L805.6 501.5L814.7 497.1L824.0 492.4L833.3 487.5L842.7 482.4L852.0 477.4L861.0 472.5L869.6 467.8L877.7 463.2L885.5 458.7L893.0 454.3L900.4 450.0L907.8 446.0L915.3 442.2L923.0 438.6L930.9 435.2L938.7 432.0L946.4 429.0L953.9 426.3L961.0 424.0L967.9 422.1L974.6 420.5L981.1 419.2L987.3 418.1L992.8 417.3L997.7 416.6L1001.2 416.0L1003.4 415.6L1005.0 415.3L1006.9 415.4L1009.8 415.8L1014.6 416.6L1021.5 417.7L1030.0 419.0L1039.6 420.7L1049.7 422.9L1059.8 425.7L1069.5 429.4L1078.9 434.0L1088.3 439.5L1097.8 445.6L1107.3 452.2L1116.8 459.1L1126.3 466.0L1135.7 473.0L1145.1 480.4L1154.5 487.9L1164.0 495.7L1173.4 503.7L1183.0 511.7L1192.6 520.0L1202.3 528.6L1212.0 537.4L1221.8 546.1L1231.6 554.7L1241.5 563.0L1251.5 571.0L1261.6 578.8L1271.8 586.5L1281.9 594.1L1292.0 601.5L1302.0 608.7L1311.9 615.7L1321.7 622.5L1331.4 629.2L1341.1 635.7L1350.8 642.3L1360.5 649.0L1370.2 655.8L1379.9 662.8L1389.6 669.7L1399.3 676.6L1408.8 683.3L1418.3 689.7L1427.6 695.9L1436.7 701.8L1445.8 707.7L1454.9 713.3L1464.0 718.9L1473.2 724.4L1482.6 729.8L1492.1 735.2L1501.7 740.4L1511.3 745.5L1520.7 750.6L1530.0 755.5L1539.1 760.3L1547.9 765.0L1556.7 769.6L1565.5 774.1L1574.2 778.5L1583.0 783.0L1591.9 787.5L1600.8 792.1L1609.7 796.6L1618.6 801.0L1627.4 805.2L1636.0 809.0L1644.5 812.4L1652.8 815.5L1661.0 818.3L1669.1 821.0L1677.3 823.6L1685.5 826.2L1693.7 828.8L1702.0 831.4L1710.2 833.8L1718.4 836.2L1726.7 838.6L1734.9 840.9L1743.1 843.2L1751.3 845.4L1759.4 847.6L1767.6 849.8L1775.9 851.8L1784.3 853.7L1793.0 855.5L1802.1 857.2L1811.2 858.7L1820.2 860.2L1828.8 861.6L1836.6 862.8L1843.6 863.9L1850.0 864.9L1855.9 865.8L1861.6 866.6L1867.3 867.3L1873.2 868.0L1879.3 868.6L1885.4 869.2L1891.5 869.6L1897.6 870.1L1903.7 870.6L1909.8 871.3L1916.0 872.2L1922.4 873.3L1928.7 874.5L1934.9 875.6L1940.9 876.5L1946.4 877.0L1951.5 877.0L1956.4 876.7L1961.1 876.1L1965.4 875.4L1969.4 874.7L1973.0 874.1L1976.2 873.6L1978.9 873.1L1981.2 872.6L1983.4 872.1L1985.6 871.5L1988.0 870.9L1990.5 870.3L1993.1 869.7L1995.7 869.0L1998.2 868.4L2000.7 867.6L2003.0 866.7L2005.2 865.7L2007.2 864.5L2009.2 863.3L2011.1 862.0L2013.0 860.7L2015.0 859.5L2017.0 858.4L2019.0 857.2L2021.1 856.1L2023.1 855.0L2025.1 853.8L2027.0 852.5L2028.9 851.1L2030.8 849.6L2032.6 848.0L2034.4 846.4L2036.2 844.7L2038.0 843.0L2039.8 841.2L2041.6 839.3L2043.3 837.4L2045.0 835.5L2046.6 833.7L2048.0 832.0L2049.3 830.5L2050.4 829.1L2051.5 827.8L2052.4 826.6L2053.3 825.3L2054.0 824.0L2054.6 822.6L2055.0 821.0L2055.4 819.5L2055.6 818.1L2055.8 816.9L2056.0 816.0" fill="none" stroke="#ff7b55" stroke-width="11.5" stroke-linejoin="round" stroke-linecap="round"/><path d="M360.5 1371.0L384.5 1356.7V1385.3ZM360.5 1362.8L384.5 1348.5V1377.1ZM360.5 1340.5L384.5 1326.2V1354.8ZM360.5 1314.9L384.5 1300.6V1329.2ZM360.5 1284.7L384.5 1270.4V1299.0ZM360.5 1247.9L384.5 1233.6V1262.2ZM360.5 1203.0L384.5 1188.7V1217.3ZM360.6 1146.2L384.6 1131.9V1160.5ZM360.9 1070.1L384.9 1055.8V1084.4ZM361.7 983.1L385.7 968.8V997.4ZM362.5 895.9L386.5 881.6V910.2ZM363.3 819.4L387.3 805.1V833.7ZM364.2 758.4L388.2 744.1V772.7ZM365.2 711.3L389.2 697.0V725.6ZM365.9 674.2L389.9 659.9V688.5ZM367.0 643.1L391.0 628.8V657.4ZM368.1 616.1L392.1 601.8V630.4ZM369.1 593.4L393.1 579.1V607.7ZM370.1 572.6L394.1 558.3V586.9ZM371.6 552.8L395.6 538.5V567.1ZM373.4 534.5L397.4 520.2V548.8ZM375.0 517.0L399.0 502.7V531.3ZM376.4 500.5L400.4 486.2V514.8ZM378.0 485.0L402.0 470.7V499.3ZM379.6 470.0L403.6 455.7V484.3ZM381.0 456.0L405.0 441.7V470.3ZM382.2 442.7L406.2 428.4V457.0ZM383.9 430.0L407.9 415.7V444.3ZM386.3 417.8L410.3 403.5V432.1ZM390.2 406.8L414.2 392.5V421.1ZM394.7 396.9L418.7 382.6V411.2ZM399.3 390.0L423.3 375.7V404.3ZM405.1 383.9L429.1 369.6V398.2ZM411.9 378.0L435.9 363.7V392.3ZM418.7 373.0L442.7 358.7V387.3ZM426.8 367.5L450.8 353.2V381.8ZM435.2 362.4L459.2 348.1V376.7ZM444.2 356.8L468.2 342.5V371.1ZM454.0 350.7L478.0 336.4V365.0ZM465.0 343.9L489.0 329.6V358.2ZM476.9 336.7L500.9 322.4V351.0ZM491.0 329.5L515.0 315.2V343.8ZM506.9 322.0L530.9 307.7V336.3ZM524.9 314.2L548.9 299.9V328.5ZM545.1 306.1L569.1 291.8V320.4ZM567.9 297.7L591.9 283.4V312.0ZM593.2 289.6L617.2 275.3V303.9ZM620.4 280.3L644.4 266.0V294.6ZM649.5 271.5L673.5 257.2V285.8ZM682.3 263.5L706.3 249.2V277.8ZM717.5 255.6L741.5 241.3V269.9ZM756.1 248.3L780.1 234.0V262.6ZM797.5 242.7L821.5 228.4V257.0ZM842.7 237.8L866.7 223.5V252.1ZM891.5 230.7L915.5 216.4V245.0ZM942.9 219.6L966.9 205.3V233.9ZM998.1 209.2L1022.1 194.9V223.5ZM1057.3 204.2L1081.3 189.9V218.5ZM1120.4 200.1L1144.4 185.8V214.4ZM1186.7 207.4L1210.7 193.1V221.7ZM1238.4 253.7L1262.4 239.4V268.0ZM1286.7 304.1L1310.7 289.8V318.4ZM1345.9 340.8L1369.9 326.5V355.1ZM1407.6 374.2L1431.6 359.9V388.5ZM1465.2 414.0L1489.2 399.7V428.3ZM1520.0 453.6L1544.0 439.3V467.9ZM1577.8 484.4L1601.8 470.1V498.7ZM1630.0 519.1L1654.0 504.8V533.4ZM1679.8 552.1L1703.8 537.8V566.4ZM1725.9 584.1L1749.9 569.8V598.4ZM1769.4 614.5L1793.4 600.2V628.8ZM1811.5 640.6L1835.5 626.3V654.9ZM1848.7 664.7L1872.7 650.4V679.0ZM1880.5 688.3L1904.5 674.0V702.6ZM1909.1 709.5L1933.1 695.2V723.8ZM1933.6 728.7L1957.6 714.4V743.0ZM1952.9 746.7L1976.9 732.4V761.0ZM1969.9 761.8L1993.9 747.5V776.1ZM1985.0 774.3L2009.0 760.0V788.6ZM1997.3 785.2L2021.3 770.9V799.5ZM2008.4 793.7L2032.4 779.4V808.0ZM2018.6 800.7L2042.6 786.4V815.0ZM2028.2 806.6L2052.2 792.3V820.9ZM2036.3 812.6L2060.3 798.3V826.9ZM360.6 1369.9L384.6 1355.6V1384.2ZM362.4 1350.0L386.4 1335.7V1364.3ZM363.5 1330.1L387.5 1315.8V1344.4ZM364.4 1310.1L388.4 1295.8V1324.4ZM365.3 1290.1L389.3 1275.8V1304.4ZM366.1 1270.3L390.1 1256.0V1284.6ZM367.0 1250.5L391.0 1236.2V1264.8ZM367.8 1230.2L391.8 1215.9V1244.5ZM368.6 1210.5L392.6 1196.2V1224.8ZM369.4 1190.5L393.4 1176.2V1204.8ZM370.2 1170.3L394.2 1156.0V1184.6ZM371.0 1150.5L395.0 1136.2V1164.8ZM371.8 1130.3L395.8 1116.0V1144.6ZM372.7 1110.6L396.7 1096.3V1124.9ZM373.6 1090.6L397.6 1076.3V1104.9ZM374.5 1070.6L398.5 1056.3V1084.9ZM375.4 1050.6L399.4 1036.3V1064.9ZM376.5 1030.5L400.5 1016.2V1044.8ZM378.3 1010.6L402.3 996.3V1024.9ZM380.3 990.8L404.3 976.5V1005.1ZM382.7 970.7L406.7 956.4V985.0ZM385.2 951.1L409.2 936.8V965.4ZM387.8 931.0L411.8 916.7V945.3ZM391.0 911.4L415.0 897.1V925.7ZM395.6 891.7L419.6 877.4V906.0ZM400.8 872.8L424.8 858.5V887.1ZM407.4 853.6L431.4 839.3V867.9ZM412.5 834.6L436.5 820.3V848.9ZM416.5 815.1L440.5 800.8V829.4ZM423.2 796.2L447.2 781.9V810.5ZM430.7 777.4L454.7 763.1V791.7ZM442.3 762.5L466.3 748.2V776.8ZM448.4 743.4L472.4 729.1V757.7ZM452.1 723.8L476.1 709.5V738.1ZM464.0 708.1L488.0 693.8V722.4ZM477.9 693.7L501.9 679.4V708.0ZM491.9 679.0L515.9 664.7V693.3ZM506.2 665.4L530.2 651.1V679.7ZM521.5 652.4L545.5 638.1V666.7ZM538.2 639.3L562.2 625.0V653.6ZM557.1 625.7L581.1 611.4V640.0ZM578.3 611.8L602.3 597.5V626.1ZM601.6 597.7L625.6 583.4V612.0ZM627.3 583.2L651.3 568.9V597.5ZM654.7 568.4L678.7 554.1V582.7ZM684.9 552.9L708.9 538.6V567.2ZM717.1 536.2L741.1 521.9V550.5ZM751.8 518.9L775.8 504.6V533.2ZM790.1 501.3L814.1 487.0V515.6ZM829.8 480.8L853.8 466.5V495.1ZM871.3 457.7L895.3 443.4V472.0ZM916.8 434.4L940.8 420.1V448.7ZM968.7 418.6L992.7 404.3V432.9ZM1025.6 421.1L1049.6 406.8V435.4ZM1081.4 445.4L1105.4 431.1V459.7ZM1133.1 483.5L1157.1 469.2V497.8ZM1184.7 527.2L1208.7 512.9V541.5ZM1237.9 572.9L1261.9 558.6V587.2ZM1293.8 614.3L1317.8 600.0V628.6ZM1351.7 654.0L1375.7 639.7V668.3ZM1409.1 694.2L1433.1 679.9V708.5ZM1468.4 730.8L1492.4 716.5V745.1ZM1528.4 763.1L1552.4 748.8V777.4ZM1586.1 792.8L1610.1 778.5V807.1ZM1643.0 817.6L1667.0 803.3V831.9ZM1699.0 835.2L1723.0 820.9V849.5ZM1751.6 849.8L1775.6 835.5V864.1ZM1801.2 859.7L1825.2 845.4V874.0ZM1846.1 866.6L1870.1 852.3V880.9ZM1885.7 870.5L1909.7 856.2V884.8ZM1919.4 875.7L1943.4 861.4V890.0ZM1947.7 875.7L1971.7 861.4V890.0ZM1970.8 871.2L1994.8 856.9V885.5ZM1989.7 865.4L2013.7 851.1V879.7ZM2007.1 855.0L2031.1 840.7V869.3ZM2022.4 842.6L2046.4 828.3V856.9ZM2035.5 827.8L2059.5 813.5V842.1Z" fill="#ff7b55"/>
<line x1="1558" y1="923.3" x2="1714" y2="923.3" stroke="#000000" stroke-width="11.5" stroke-linecap="round"/>
<rect x="1624.6" y="912.7" width="21.2" height="21.2" fill="#000000"/>
<text x="1734" y="951.8" font-size="77">BA</text>
<line x1="1558" y1="1023.8" x2="1714" y2="1023.8" stroke="#ff0000" stroke-width="11.5" stroke-linecap="round"/>
<circle cx="1635.2" cy="1023.8" r="11.2" fill="#ff0000"/>
<text x="1734" y="1052.2" font-size="77">VCaCh_–0.8</text>
<line x1="1558" y1="1124.2" x2="1714" y2="1124.2" stroke="#0000ff" stroke-width="11.5" stroke-linecap="round"/>
<path d="M1635.2 1107.0L1649.5 1133.0H1620.9Z" fill="#0000ff"/>
<text x="1734" y="1152.7" font-size="77">VCaCh_0.8</text>
<line x1="1558" y1="1224.7" x2="1714" y2="1224.7" stroke="#008000" stroke-width="11.5" stroke-linecap="round"/>
<path d="M1635.2 1241.2L1649.5 1216.5H1620.9Z" fill="#008000"/>
<text x="1734" y="1253.2" font-size="77">VCa_–0.8</text>
<line x1="1558" y1="1325.1" x2="1714" y2="1325.1" stroke="#ff7b55" stroke-width="11.5" stroke-linecap="round"/>
<path d="M1619.2 1325.1L1643.2 1310.8V1339.4Z" fill="#ff7b55"/>
<text x="1734" y="1353.6" font-size="77">VCa_0.8</text>
</svg></body></html>
